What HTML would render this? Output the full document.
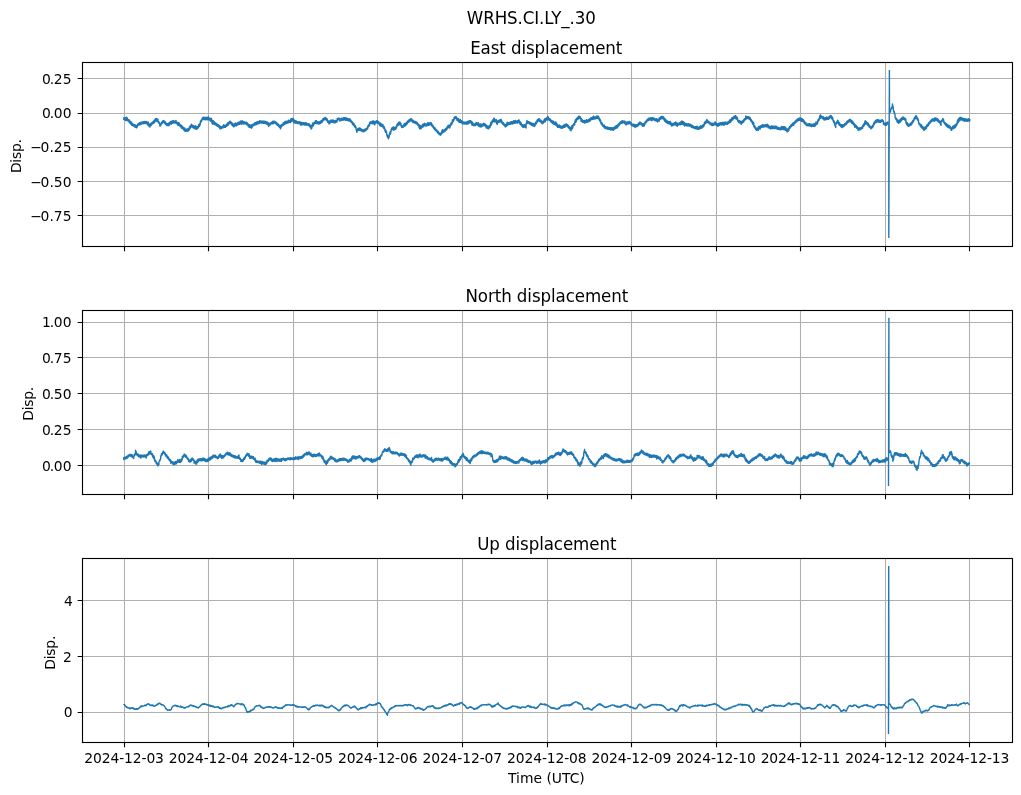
<!DOCTYPE html>
<html lang="en"><head><meta charset="utf-8"><title>WRHS.CI.LY_.30</title>
<style>html,body{margin:0;padding:0;background:#fff}body{width:1021px;height:795px;overflow:hidden}svg{display:block}text{font-family:"DejaVu Sans","Liberation Sans",sans-serif;fill:#000}.t10{font-size:13.889px}.t12{font-size:16.667px}.g{stroke:#b0b0b0;stroke-width:1.111;fill:none}.s{stroke:#000;stroke-width:1.111;fill:none;stroke-linecap:square}.k{stroke:#000;stroke-width:1.111;fill:none}.d{stroke:#1f77b4;stroke-width:1.389;fill:none;stroke-linejoin:round;stroke-linecap:butt}.d3{stroke-width:1.389px}.sp{stroke-width:1.389;stroke-linejoin:miter}</style></head><body>
<svg width="1021" height="795" viewBox="0 0 1021 795">
<rect width="1021" height="795" fill="#fff"/>
<text class="t12" transform="translate(531.3 23.9) scale(1 1.07)" text-anchor="middle" style="letter-spacing:-0.1px">WRHS.CI.LY_.30</text>
<g>
<path class="g" d="M124.5 62.5V246.5M208.5 62.5V246.5M293.5 62.5V246.5M377.5 62.5V246.5M462.5 62.5V246.5M547.5 62.5V246.5M631.5 62.5V246.5M716.5 62.5V246.5M800.5 62.5V246.5M885.5 62.5V246.5M969.5 62.5V246.5M82.5 78.5H1012.5M82.5 113.5H1012.5M82.5 147.5H1012.5M82.5 181.5H1012.5M82.5 215.5H1012.5"/>
<clipPath id="c0"><rect x="82.5" y="62.5" width="930.0" height="184.0"/></clipPath>
<g clip-path="url(#c0)">
<polyline class="d" points="123.8,117.3 123.8,119.5 124.7,119.6 124.7,117.7 125.6,117.9 125.6,120.5 126.5,120.2 126.5,117.2 127.4,118.3 127.4,120.7 128.3,121.1 128.3,119.6 129.2,119.9 129.2,122.5 130.1,123.2 130.1,121.3 131,121.6 131,124.1 131.9,125.3 131.9,123 132.8,124 132.8,125.7 133.7,126.1 133.7,124.5 134.6,124.6 134.6,126.7 135.5,127.3 135.5,125.1 136.4,125.9 136.4,127.9 137.3,127.1 137.3,125.1 138.2,123.6 138.2,125.3 139.1,124.8 139.1,123.2 140,122.7 140,124.8 140.9,124.3 140.9,122.3 141.8,122.1 141.8,124 142.7,123.4 142.7,121.9 143.6,121.8 143.6,123.8 144.5,123.4 144.5,121.4 145.4,121.6 145.4,123.5 146.3,123.4 146.3,121.5 147.2,122.4 147.2,124.3 148.1,125.3 148.1,121.9 149,124.1 149,126.3 149.9,127 149.9,124.9 150.8,123.5 150.8,125.8 151.7,124.6 151.7,122.7 152.6,122 152.6,123.8 153.5,123.3 153.5,121.2 154.4,120.1 154.4,122.7 155.3,121.2 155.3,119 156.2,118.4 156.2,120.7 157.1,121.4 157.1,118.8 158,119.6 158,121.6 158.9,123.3 158.9,121.6 159.8,124.3 159.8,126.1 160.7,125.8 160.7,124.1 161.6,122.2 161.6,124.1 162.5,122.8 162.5,121.2 163.4,120.4 163.4,122.1 164.3,123 164.3,121 165.2,121.8 165.2,124 166.1,124.7 166.1,123 167,123.7 167,125.7 167.9,125.4 167.9,123.5 168.8,123 168.8,125.7 169.7,124.5 169.7,122.7 170.6,121.4 170.6,123.7 171.5,124.2 171.5,121.3 172.4,121 172.4,123.3 173.3,122.8 173.3,120.5 174.2,121 174.2,123 175.1,122.9 175.1,121.2 176,120.5 176,123.2 176.9,123.8 176.9,122.1 177.8,122.9 177.8,125.2 178.7,125.2 178.7,122.4 179.6,124.2 179.6,126 180.5,126.7 180.5,124.8 181.4,125.3 181.4,128 182.3,128.4 182.3,126.2 183.2,127.5 183.2,129.3 184.1,130.3 184.1,128 185,128.2 185,131.4 185.9,131.1 185.9,129.6 186.8,129.2 186.8,131.4 187.7,131.1 187.7,128.8 188.6,128.3 188.6,130.7 189.5,129.3 189.5,126.9 190.4,125.8 190.4,128 191.3,126.7 191.3,124.1 192.2,125.1 192.2,126.8 193.1,127.8 193.1,125.5 194,125.9 194,128.2 194.9,128.8 194.9,126.5 195.8,125.8 195.8,128.7 196.7,129.3 196.7,126.9 197.6,126.7 197.6,128.6 198.5,127.2 198.5,124.9 199.4,124 199.4,126.5 200.3,123.9 200.3,121.8 201.2,120 201.2,122 202.1,120 202.1,118.5 203,117.5 203,119.4 203.9,119.6 203.9,117.2 204.8,117.5 204.8,119.3 205.7,119.8 205.7,117.5 206.6,117.4 206.6,119.3 207.5,119.8 207.5,117.5 208.4,116.8 208.4,119.4 209.3,120.1 209.3,118.1 210.2,118.5 210.2,120.5 211.1,121.6 211.1,118.1 212,120.6 212,123.2 212.9,124.2 212.9,120.7 213.8,121.3 213.8,123.6 214.7,124.5 214.7,122.2 215.6,123.2 215.6,124.8 216.5,125.7 216.5,123.5 217.4,124.4 217.4,125.9 218.3,126.8 218.3,124.8 219.2,125.3 219.2,127.2 220.1,128.8 220.1,126.1 221,127.2 221,128.7 221.9,128.2 221.9,126.6 222.8,126 222.8,127.9 223.7,127.4 223.7,124.8 224.6,125.5 224.6,127.4 225.5,127.2 225.5,125.5 226.4,124.6 226.4,126.3 227.3,125.7 227.3,123.4 228.2,122.5 228.2,125.1 229.1,123.7 229.1,122.1 230,121.1 230,122.9 230.9,123.7 230.9,121.9 231.8,122.8 231.8,124.9 232.7,125.9 232.7,123.5 233.6,124.3 233.6,126.9 234.5,126.2 234.5,124.1 235.4,122.9 235.4,125.9 236.3,125.9 236.3,123.7 237.2,122.9 237.2,125.2 238.1,124.7 238.1,122.5 239,122.3 239,124.4 239.9,124.2 239.9,121.8 240.8,120.9 240.8,123.5 241.7,124.3 241.7,121 242.6,120.9 242.6,122.7 243.5,124 243.5,121.7 244.4,121.9 244.4,123.9 245.3,123.9 245.3,122.2 246.2,122.3 246.2,124.3 247.1,124.8 247.1,122.6 248,123.8 248,125.8 248.9,127 248.9,124.8 249.8,124.6 249.8,127.5 250.7,127.6 250.7,125.6 251.6,124.9 251.6,128.2 252.5,126.5 252.5,124.5 253.4,124.2 253.4,125.7 254.3,125.1 254.3,123.3 255.2,122.7 255.2,124.8 256.1,124.7 256.1,122.4 257,121.9 257,124.2 257.9,123.9 257.9,121.5 258.8,121.7 258.8,123.5 259.7,123.3 259.7,120.6 260.6,121.3 260.6,122.8 261.5,123 261.5,121.1 262.4,121 262.4,123.1 263.3,123.2 263.3,121.2 264.2,121.2 264.2,123.3 265.1,123.3 265.1,121.3 266,121.7 266,123.9 266.9,124.2 266.9,121.9 267.8,122.3 267.8,124.1 268.7,126.5 268.7,123.3 269.6,123.4 269.6,125 270.5,124.6 270.5,122.8 271.4,122.4 271.4,123.9 272.3,123.8 272.3,121.7 273.2,121.2 273.2,123.8 274.1,122.8 274.1,121.2 275,121.4 275,123.2 275.9,123.8 275.9,122.1 276.8,122.7 276.8,124.9 277.7,125.5 277.7,123.8 278.6,124.3 278.6,126.5 279.5,127.2 279.5,125.5 280.4,125.5 280.4,128.9 281.3,126.8 281.3,124.9 282.2,124.5 282.2,126.1 283.1,125.3 283.1,123 284,122.6 284,124.8 284.9,124 284.9,121.5 285.8,121.5 285.8,123.6 286.7,123.5 286.7,121.3 287.6,121.1 287.6,123 288.5,122.7 288.5,120.1 289.4,120.8 289.4,122.4 290.3,122.6 290.3,120.2 291.2,118.5 291.2,121.8 292.1,120.9 292.1,118.9 293,118.2 293,119.9 293.9,122.7 293.9,119.6 294.8,120.7 294.8,123 295.7,123 295.7,120.7 296.6,121.3 296.6,123.1 297.5,123.5 297.5,121.7 298.4,121.9 298.4,123.6 299.3,123.4 299.3,121.8 300.2,121.9 300.2,124.6 301.1,125.3 301.1,122.6 302,122.5 302,124.5 302.9,124.7 302.9,122.6 303.8,122.8 303.8,124.7 304.7,125.1 304.7,123 305.6,122.6 305.6,125 306.5,125.1 306.5,123 307.4,123.5 307.4,125.1 308.3,125.3 308.3,123.6 309.2,124 309.2,126.1 310.1,127.1 310.1,125 311,125.5 311,129.1 311.9,128.1 311.9,125.4 312.8,123 312.8,126.3 313.7,124.8 313.7,122.9 314.6,122.2 314.6,123.7 315.5,123.4 315.5,120.8 316.4,120.7 316.4,123.6 317.3,123.4 317.3,121.7 318.2,122.1 318.2,124.1 319.1,124 319.1,121.8 320,122 320,123.6 320.9,123.2 320.9,120.8 321.8,120.3 321.8,122.4 322.7,121.6 322.7,119.3 323.6,118.4 323.6,120.2 324.5,119.7 324.5,117.9 325.4,117.4 325.4,119.6 326.3,120 326.3,118.2 327.2,119.1 327.2,121.3 328.1,122.6 328.1,121 329,120.9 329,124 329.9,123.5 329.9,121.2 330.8,120.1 330.8,122.4 331.7,122 331.7,120.4 332.6,119.9 332.6,122.3 333.5,122.5 333.5,120.3 334.4,120.8 334.4,122.9 335.3,122.8 335.3,120.5 336.2,120.6 336.2,122.2 337.1,121.8 337.1,118.8 338,118.3 338,119.9 338.9,119.5 338.9,118 339.8,118.5 339.8,121 340.7,120.6 340.7,119 341.6,118.3 341.6,120.2 342.5,120.1 342.5,118.3 343.4,117.8 343.4,120.1 344.3,119.7 344.3,117.6 345.2,117.8 345.2,120 346.1,120.3 346.1,117.9 347,118.1 347,120.3 347.9,120.6 347.9,118.6 348.8,118.9 348.8,121.1 349.7,121.1 349.7,118.8 350.6,120 350.6,121.7 351.5,122.6 351.5,121 352.4,122.1 352.4,124.2 353.3,125 353.3,123 354.2,124.1 354.2,126.1 355.1,127.3 355.1,125.4 356,127.1 356,128.8 356.9,132.2 356.9,130.2 357.8,128.6 357.8,130.7 358.7,130.2 358.7,128.2 359.6,127.9 359.6,130.3 360.5,130.6 360.5,128.3 361.4,129.2 361.4,131 362.3,131.5 362.3,129.7 363.2,129.9 363.2,131.7 364.1,131.7 364.1,129.8 365,129.2 365,130.9 365.9,130.7 365.9,128.7 366.8,127.9 366.8,129.6 367.7,128.7 367.7,126.6 368.6,124.9 368.6,126.9 369.5,125.2 369.5,122.8 370.4,121.9 370.4,123.6 371.3,123.1 371.3,121.6 372.2,121.4 372.2,123.8 373.1,123.9 373.1,120.7 374,121.6 374,123.6 374.9,124.7 374.9,121.4 375.8,121.5 375.8,123.1 376.7,122.6 376.7,120.7 377.6,120.9 377.6,123.1 378.5,123.6 378.5,121.8 379.4,122.9 379.4,124.8 380.3,126 380.3,122.9 381.2,124 381.2,126 382.1,126.6 382.1,124.2 383,124.9 383,127.2 383.9,128.5 383.9,126.3 384.8,128.4 384.8,129.9 385.7,132.4 385.7,130 386.6,132.2 386.6,134.2 387.5,137.2 387.5,135 388.4,136.8 388.4,138.9 389.3,136.2 389.3,134.5 390.2,131.8 390.2,134.2 391.1,131.2 391.1,129.6 392,127.8 392,129.9 392.9,129 392.9,127.2 393.8,127 393.8,130.2 394.7,129.3 394.7,127.7 395.6,127.2 395.6,129.3 396.5,127.7 396.5,125.9 397.4,123.7 397.4,126 398.3,125 398.3,122.8 399.2,122.1 399.2,124.7 400.1,124.5 400.1,122.3 401,123.9 401,125.6 401.9,127.6 401.9,125.8 402.8,125.9 402.8,127.4 403.7,126.7 403.7,124.9 404.6,123.5 404.6,126.1 405.5,125.7 405.5,123.5 406.4,122.4 406.4,124.8 407.3,123.5 407.3,121.4 408.2,120.7 408.2,122.5 409.1,121.9 409.1,119.7 410,119.3 410,121.3 410.9,120.6 410.9,118.5 411.8,119.2 411.8,121.2 412.7,122.4 412.7,120.1 413.6,121 413.6,122.6 414.5,122.9 414.5,121.2 415.4,121.7 415.4,123.4 416.3,123.8 416.3,121.9 417.2,122.3 417.2,124.2 418.1,125.6 418.1,123.6 419,124.8 419,127.6 419.9,128.9 419.9,125.3 420.8,126.4 420.8,128.7 421.7,127.8 421.7,126.2 422.6,124.3 422.6,127.1 423.5,126.6 423.5,124.4 424.4,123.3 424.4,125.7 425.3,125.7 425.3,123.8 426.2,124.1 426.2,126 427.1,125.7 427.1,123.8 428,122.5 428,125.4 428.9,125.4 428.9,123.4 429.8,122.8 429.8,124.6 430.7,124.7 430.7,122.4 431.6,123.3 431.6,125.6 432.5,126.7 432.5,125 433.4,126.1 433.4,127.7 434.3,129.2 434.3,127.4 435.2,128.1 435.2,130.2 436.1,131 436.1,129.4 437,130.2 437,131.9 437.9,133.2 437.9,131.1 438.8,132.4 438.8,133.9 439.7,134.8 439.7,133.2 440.6,133.4 440.6,135.2 441.5,134 441.5,132.5 442.4,129.7 442.4,133 443.3,132.4 443.3,130.1 444.2,129.9 444.2,131.8 445.1,131.2 445.1,129 446,128.4 446,130.3 446.9,129.6 446.9,127.3 447.8,125.8 447.8,128 448.7,127.4 448.7,125.2 449.6,125.1 449.6,128.1 450.5,125.8 450.5,124.3 451.4,122.7 451.4,124.8 452.3,123.2 452.3,120.2 453.2,119.6 453.2,121.7 454.1,119.8 454.1,117.6 455,116.9 455,118.6 455.9,118.4 455.9,116.5 456.8,117.8 456.8,119.9 457.7,120.8 457.7,118.8 458.6,118.6 458.6,121.7 459.5,122.3 459.5,120.2 460.4,119.5 460.4,122.5 461.3,122.5 461.3,120.7 462.2,121.3 462.2,123.5 463.1,123.8 463.1,121.9 464,122.2 464,123.9 464.9,124 464.9,122.3 465.8,122.3 465.8,123.9 466.7,124.2 466.7,122 467.6,121.4 467.6,123.8 468.5,123.8 468.5,121.4 469.4,120.7 469.4,123 470.3,122.3 470.3,120.5 471.2,121.3 471.2,123.3 472.1,125.1 472.1,121.9 473,123.2 473,125 473.9,125.8 473.9,124.2 474.8,123.9 474.8,125.6 475.7,125.3 475.7,123.2 476.6,122.6 476.6,124.8 477.5,125.1 477.5,123.3 478.4,122.7 478.4,125.7 479.3,126.4 479.3,124.4 480.2,123.8 480.2,126.7 481.1,127.1 481.1,124.7 482,124.2 482,126.4 482.9,125.8 482.9,124.1 483.8,123.3 483.8,125.6 484.7,125.7 484.7,123.8 485.6,124.3 485.6,126.4 486.5,128.1 486.5,125.4 487.4,126.1 487.4,128.2 488.3,128.9 488.3,126.8 489.2,125.8 489.2,128.1 490.1,127.2 490.1,125.4 491,122.2 491,125.4 491.9,123.3 491.9,121.6 492.8,119.8 492.8,122.2 493.7,121 493.7,118.1 494.6,119 494.6,121.9 495.5,121.8 495.5,120 496.4,119.7 496.4,123.1 497.3,124.4 497.3,121.6 498.2,120.5 498.2,122.5 499.1,122.1 499.1,120.3 500,119.8 500,122 500.9,121.6 500.9,119.3 501.8,120.9 501.8,122.9 502.7,124 502.7,122.1 503.6,123.1 503.6,124.8 504.5,125.9 504.5,124.2 505.4,124.8 505.4,127 506.3,126.5 506.3,124.3 507.2,122.2 507.2,125.5 508.1,125 508.1,123 509,122.5 509,124.4 509.9,124.4 509.9,122.5 510.8,121.8 510.8,124 511.7,123.9 511.7,121.6 512.6,121.7 512.6,124.1 513.5,123.3 513.5,120.8 514.4,120.9 514.4,123.3 515.3,123 515.3,120.4 516.2,121 516.2,122.5 517.1,123.3 517.1,120.9 518,120.6 518,122.3 518.9,122.7 518.9,119.8 519.8,121.9 519.8,123.5 520.7,124.8 520.7,121.9 521.6,124.3 521.6,125.8 522.5,126.9 522.5,124.6 523.4,125.3 523.4,127.5 524.3,126.9 524.3,124.7 525.2,124.9 525.2,127.3 526.1,127.9 526.1,124.2 527,120.4 527,123.5 527.9,123.2 527.9,121.7 528.8,121.7 528.8,123.4 529.7,124 529.7,122.2 530.6,122.8 530.6,124.5 531.5,125.2 531.5,122.9 532.4,123.6 532.4,125.7 533.3,125.9 533.3,123.5 534.2,124 534.2,126.6 535.1,125.7 535.1,123.4 536,122 536,124 536.9,122.6 536.9,120.5 537.8,119.6 537.8,121.5 538.7,120.7 538.7,118.6 539.6,119.2 539.6,121.4 540.5,121.9 540.5,120.1 541.4,120.8 541.4,122.7 542.3,123.7 542.3,121.8 543.2,121.1 543.2,123.2 544.1,121.7 544.1,119.8 545,118.8 545,122.1 545.9,119.9 545.9,118.4 546.8,117.8 546.8,120 547.7,119.4 547.7,116.5 548.6,117.7 548.6,119.8 549.5,120.4 549.5,118.7 550.4,119.4 550.4,121.1 551.3,122.2 551.3,120.2 552.2,121.1 552.2,123 553.1,123.8 553.1,121 554,122.3 554,124.4 554.9,124.5 554.9,122.1 555.8,121.9 555.8,125.3 556.7,126.1 556.7,123.2 557.6,125.2 557.6,127.2 558.5,127.4 558.5,125.4 559.4,125 559.4,127.4 560.3,127.8 560.3,125.8 561.2,126.1 561.2,128.3 562.1,128.3 562.1,126.4 563,125.8 563,127.8 563.9,127.3 563.9,125 564.8,124.8 564.8,127.4 565.7,125.7 565.7,124.2 566.6,123.9 566.6,126 567.5,126.8 567.5,124.8 568.4,125.8 568.4,127.5 569.3,128.7 569.3,126.7 570.2,127.8 570.2,130.3 571.1,130.7 571.1,127.8 572,125.6 572,129.1 572.9,127.1 572.9,125.3 573.8,123.7 573.8,125.6 574.7,124.8 574.7,122.1 575.6,119.4 575.6,122.3 576.5,121 576.5,118.6 577.4,117.6 577.4,119.5 578.3,118.9 578.3,116.8 579.2,116.2 579.2,118.1 580.1,118.8 580.1,116.5 581,118.5 581,121.2 581.9,121.6 581.9,119.3 582.8,120.5 582.8,122.4 583.7,122.5 583.7,120.7 584.6,120.5 584.6,123.1 585.5,122.4 585.5,120.8 586.4,119.8 586.4,122.3 587.3,122.2 587.3,120.6 588.2,119.8 588.2,121.7 589.1,121.6 589.1,119.3 590,118.7 590,121.1 590.9,119.5 590.9,117.8 591.8,117.6 591.8,119.5 592.7,119.4 592.7,117.2 593.6,116.1 593.6,119.1 594.5,119.1 594.5,117.1 595.4,116.9 595.4,118.7 596.3,118.5 596.3,116.6 597.2,115.9 597.2,118.3 598.1,118.5 598.1,116.2 599,117.5 599,119.2 599.9,121.3 599.9,119 600.8,121.1 600.8,123.1 601.7,124.7 601.7,122.7 602.6,124.1 602.6,125.9 603.5,126.8 603.5,125.1 604.4,125.3 604.4,127.7 605.3,128.5 605.3,126.5 606.2,127.1 606.2,128.7 607.1,128.7 607.1,126.9 608,127.3 608,129.4 608.9,129.2 608.9,127.4 609.8,127.9 609.8,129.4 610.7,129.9 610.7,127.6 611.6,127.7 611.6,130.1 612.5,129.9 612.5,127.9 613.4,127.7 613.4,130.3 614.3,129 614.3,127.3 615.2,126.5 615.2,128.8 616.1,127.9 616.1,125.9 617,125.2 617,128.1 617.9,126.6 617.9,124.7 618.8,123.8 618.8,125.8 619.7,124.5 619.7,122.7 620.6,121.7 620.6,123.6 621.5,123.2 621.5,121.3 622.4,120.7 622.4,123.1 623.3,122.9 623.3,121.1 624.2,121 624.2,122.9 625.1,123.9 625.1,121.5 626,122.1 626,124.9 626.9,124.1 626.9,122.4 627.8,122 627.8,124.1 628.7,123.9 628.7,121.7 629.6,121.5 629.6,123.1 630.5,124 630.5,122.3 631.4,123.1 631.4,125.4 632.3,125.8 632.3,124.1 633.2,124.3 633.2,126 634.1,126.4 634.1,124.3 635,124.6 635,127.6 635.9,126.4 635.9,124.7 636.8,124.9 636.8,126.7 637.7,126.3 637.7,124.4 638.6,123.2 638.6,125.2 639.5,124.5 639.5,122.2 640.4,122.3 640.4,123.8 641.3,124.8 641.3,122.9 642.2,123.8 642.2,125.8 643.1,126.3 643.1,124.4 644,123.2 644,126.1 644.9,124.5 644.9,122.7 645.8,121.2 645.8,122.9 646.7,122 646.7,120.1 647.6,119.1 647.6,120.8 648.5,120.5 648.5,118.3 649.4,118.5 649.4,120.1 650.3,119.9 650.3,117.7 651.2,118.1 651.2,120.5 652.1,120.5 652.1,117.7 653,117.8 653,119.9 653.9,119.8 653.9,118.2 654.8,118.8 654.8,120.5 655.7,120.8 655.7,118.9 656.6,118.7 656.6,120.8 657.5,122 657.5,119.4 658.4,119.2 658.4,121 659.3,121.1 659.3,118.1 660.2,117.5 660.2,119.5 661.1,118.8 661.1,116.5 662,116.4 662,118.5 662.9,118.7 662.9,116.6 663.8,117.3 663.8,119.2 664.7,121.2 664.7,118.5 665.6,119.6 665.6,121.9 666.5,122.6 666.5,120.3 667.4,121.3 667.4,123.3 668.3,123.7 668.3,121.5 669.2,121.9 669.2,123.6 670.1,124.3 670.1,121.4 671,122.8 671,124.9 671.9,126.2 671.9,123.5 672.8,123.6 672.8,125.4 673.7,125 673.7,123.4 674.6,122.7 674.6,124.6 675.5,125 675.5,122 676.4,122.8 676.4,125 677.3,126.3 677.3,123.3 678.2,123.4 678.2,125 679.1,124.7 679.1,123.1 680,122.6 680,124.8 680.9,124.2 680.9,121.8 681.8,121 681.8,124.2 682.7,124.4 682.7,121.4 683.6,121.9 683.6,123.8 684.5,126.1 684.5,122.7 685.4,123.5 685.4,125.1 686.3,125.8 686.3,123.6 687.2,124.2 687.2,125.8 688.1,125.8 688.1,123.7 689,123.9 689,126 689.9,126 689.9,124.2 690.8,124.7 690.8,126.6 691.7,127.4 691.7,125.1 692.6,125.6 692.6,127.5 693.5,127.9 693.5,126.3 694.4,126.9 694.4,128.4 695.3,128.7 695.3,126.8 696.2,126.8 696.2,128.9 697.1,129.1 697.1,126.3 698,127.2 698,129.2 698.9,129.2 698.9,127.5 699.8,126.6 699.8,128.7 700.7,128.4 700.7,125.7 701.6,126.1 701.6,128.1 702.5,127.4 702.5,125.4 703.4,124.7 703.4,126.8 704.3,125.2 704.3,122.8 705.2,121.7 705.2,123.8 706.1,122.9 706.1,120.9 707,119.5 707,122.3 707.9,122.6 707.9,121 708.8,121.4 708.8,123.1 709.7,124.1 709.7,122.1 710.6,123.2 710.6,124.7 711.5,125.2 711.5,123.1 712.4,123.2 712.4,125.6 713.3,125.4 713.3,123.5 714.2,123 714.2,124.7 715.1,124.6 715.1,121.8 716,123.2 716,125.2 716.9,125.6 716.9,123.6 717.8,124 717.8,126.3 718.7,125.7 718.7,123.4 719.6,123 719.6,125.2 720.5,124.4 720.5,122.8 721.4,122.7 721.4,125 722.3,124.9 722.3,122.6 723.2,122.2 723.2,124.6 724.1,125.4 724.1,122.5 725,122 725,124.4 725.9,124 725.9,122.4 726.8,122.1 726.8,124.2 727.7,124.2 727.7,122.2 728.6,121.4 728.6,123.4 729.5,122.3 729.5,120.3 730.4,119.7 730.4,122.5 731.3,120.9 731.3,119.1 732.2,117.5 732.2,120.2 733.1,119.4 733.1,117.7 734,116.3 734,118.4 734.9,117.8 734.9,115.9 735.8,115.6 735.8,118.8 736.7,119.2 736.7,117 737.6,118.4 737.6,120.7 738.5,122.2 738.5,120.5 739.4,120.6 739.4,122.9 740.3,123 740.3,121.3 741.2,121.5 741.2,124.4 742.1,122.9 742.1,121.4 743,120.4 743,122.6 743.9,121.7 743.9,119.4 744.8,118.5 744.8,120.1 745.7,119.5 745.7,116 746.6,116.7 746.6,118.8 747.5,118.2 747.5,116.6 748.4,116.8 748.4,118.4 749.3,119.2 749.3,117.1 750.2,117.7 750.2,119.7 751.1,121.3 751.1,119.3 752,120.8 752,122.4 752.9,124.6 752.9,121.8 753.8,123 753.8,126.3 754.7,128 754.7,125.8 755.6,127.7 755.6,129.2 756.5,130.3 756.5,128.1 757.4,128.3 757.4,130.1 758.3,130.3 758.3,127 759.2,126.3 759.2,128.7 760.1,129.2 760.1,126.4 761,125.6 761,127.7 761.9,127.4 761.9,125.3 762.8,124.6 762.8,126.8 763.7,127 763.7,125 764.6,125.1 764.6,126.7 765.5,126.6 765.5,124.8 766.4,124.7 766.4,126.8 767.3,126.7 767.3,124.3 768.2,125.2 768.2,127.8 769.1,127.7 769.1,126 770,126.5 770,128.8 770.9,128.8 770.9,126.5 771.8,125.8 771.8,128.6 772.7,128.6 772.7,126.5 773.6,126.2 773.6,128.2 774.5,128.7 774.5,126.3 775.4,126.2 775.4,128.3 776.3,128.7 776.3,126.3 777.2,127.3 777.2,129 778.1,129.4 778.1,127.4 779,127.8 779,129.6 779.9,129.6 779.9,128.1 780.8,127.4 780.8,129.8 781.7,129.4 781.7,126.5 782.6,126.9 782.6,129 783.5,129.6 783.5,126.6 784.4,126.6 784.4,129.5 785.3,130.3 785.3,127.1 786.2,128.5 786.2,130.2 787.1,131.9 787.1,129.6 788,128.7 788,131.3 788.9,130.2 788.9,128 789.8,126.4 789.8,128.2 790.7,127.3 790.7,125.3 791.6,124.6 791.6,126.2 792.5,125.2 792.5,123.3 793.4,122.8 793.4,125.3 794.3,123.8 794.3,122.3 795.2,121.1 795.2,123 796.1,122.1 796.1,120.5 797,119.4 797,121.6 797.9,120.8 797.9,118.6 798.8,118.3 798.8,120.4 799.7,120.2 799.7,118 800.6,117.9 800.6,120.3 801.5,121.4 801.5,118.4 802.4,119.1 802.4,121 803.3,121.9 803.3,119.7 804.2,121.2 804.2,123 805.1,124.1 805.1,122.2 806,122.8 806,124.9 806.9,125.8 806.9,124.2 807.8,124 807.8,125.6 808.7,125.8 808.7,123.8 809.6,123.8 809.6,125.7 810.5,126.2 810.5,124.1 811.4,124.3 811.4,126.5 812.3,126.2 812.3,124.5 813.2,124.3 813.2,126.4 814.1,126.2 814.1,123.8 815,123.7 815,126.2 815.9,124.9 815.9,122 816.8,122.4 816.8,124.3 817.7,122.8 817.7,120.7 818.6,119 818.6,121 819.5,119 819.5,116.8 820.4,114.9 820.4,118.2 821.3,117.7 821.3,115.9 822.2,116.6 822.2,118.1 823.1,119 823.1,116.6 824,117.6 824,120.1 824.9,119.9 824.9,117.6 825.8,117.6 825.8,119.7 826.7,119.3 826.7,117 827.6,117.5 827.6,119.4 828.5,119.4 828.5,117.5 829.4,116.3 829.4,118.6 830.3,117.4 830.3,115.5 831.2,115.6 831.2,117.6 832.1,119.2 832.1,116.8 833,118.8 833,120.6 833.9,122.8 833.9,120.8 834.8,122.9 834.8,124.9 835.7,127.6 835.7,124.9 836.6,121.9 836.6,123.5 837.5,123 837.5,120.2 838.4,121.2 838.4,123.5 839.3,125.2 839.3,122.5 840.2,124.2 840.2,125.8 841.1,126.9 841.1,124.6 842,124.7 842,127.6 842.9,126.9 842.9,125 843.8,124.7 843.8,126.6 844.7,125.3 844.7,123.8 845.6,123.2 845.6,124.8 846.5,124.2 846.5,122.2 847.4,121 847.4,123.1 848.3,122.2 848.3,120.5 849.2,119.8 849.2,121.8 850.1,121.5 850.1,119.3 851,120.3 851,121.9 851.9,123.3 851.9,120.7 852.8,121.5 852.8,123.8 853.7,124.9 853.7,123 854.6,123.9 854.6,127.2 855.5,126.9 855.5,124.9 856.4,125.8 856.4,128 857.3,128.8 857.3,126.8 858.2,128 858.2,130.4 859.1,129.9 859.1,128.3 860,127.7 860,129.8 860.9,129.2 860.9,127.7 861.8,127 861.8,128.7 862.7,128.1 862.7,125.8 863.6,124.2 863.6,126.3 864.5,125 864.5,122.7 865.4,120.6 865.4,124 866.3,123.9 866.3,121.8 867.2,122.5 867.2,124.7 868.1,125.6 868.1,123.2 869,124.8 869,126.9 869.9,127.5 869.9,126 870.8,126.8 870.8,128.8 871.7,128.4 871.7,126.8 872.6,125.3 872.6,127.3 873.5,125.8 873.5,123.7 874.4,121.9 874.4,124.3 875.3,122.5 875.3,120.8 876.2,120.2 876.2,122.6 877.1,121.8 877.1,119.8 878,119.7 878,122.1 878.9,122 878.9,119.9 879.8,120.8 879.8,122.4 880.7,122.2 880.7,120.4 881.6,119.9 881.6,121.5 882.5,121.4 882.5,119.8 883.4,121.2 883.4,123.9 884.3,124.8 884.3,123.3 885.2,123.3 885.2,125.2 886.1,125.3 886.1,123 887,122.6 887,124.7 887.9,123.2 887.9,121.2"/>
<polyline class="d sp" points="888.5,122.4 888.8,123.4 888.8,238.1 889.4,70 889.5,109.5 889.8,111.5"/>
<polyline class="d" points="889.7,110.9 889.7,112.5 890.6,112 890.6,110 891.5,107.2 891.5,109 892.4,106.7 892.4,104 893.3,107.9 893.3,109.5 894.2,113.1 894.2,111.3 895.1,115.1 895.1,117.5 896,119.6 896,118 896.9,119.4 896.9,121.5 897.8,122.5 897.8,120.2 898.7,120.5 898.7,123.4 899.6,122.1 899.6,120.2 900.5,119.1 900.5,122 901.4,120.5 901.4,118.2 902.3,117.5 902.3,119.6 903.2,119.1 903.2,116.9 904.1,117.7 904.1,119.4 905,120.1 905,118.3 905.9,119.2 905.9,122.5 906.8,124.7 906.8,122.2 907.7,123.5 907.7,125.7 908.6,126.3 908.6,124.7 909.5,124.1 909.5,125.9 910.4,125.2 910.4,123.6 911.3,122.6 911.3,124.9 912.2,123.2 912.2,121.7 913.1,120.2 913.1,122.3 914,120.3 914,118.7 914.9,117.1 914.9,119 915.8,118 915.8,115.6 916.7,116.3 916.7,118.1 917.6,120.1 917.6,118 918.5,120.5 918.5,122.7 919.4,124.8 919.4,123.2 920.3,124.6 920.3,126.3 921.2,127.2 921.2,124.5 922.1,126 922.1,128.2 923,129.1 923,126.8 923.9,128 923.9,130.5 924.8,129.5 924.8,127.2 925.7,126.8 925.7,129 926.6,128 926.6,125.3 927.5,124.6 927.5,126.3 928.4,125.4 928.4,123.3 929.3,122.2 929.3,124 930.2,122.9 930.2,121.1 931.1,120.1 931.1,122 932,121.3 932,119.1 932.9,119 932.9,120.8 933.8,121 933.8,118.7 934.7,118 934.7,121.2 935.6,119.9 935.6,117.9 936.5,118.4 936.5,120 937.4,121.1 937.4,118.8 938.3,119.5 938.3,121.7 939.2,122.3 939.2,120.8 940.1,121.2 940.1,123.4 941,125.4 941,122.3 941.9,120.1 941.9,121.7 942.8,120.5 942.8,118.4 943.7,120.1 943.7,122 944.6,123.9 944.6,122.1 945.5,123.1 945.5,124.8 946.4,126 946.4,123.8 947.3,124.6 947.3,126.8 948.2,127.6 948.2,125.2 949.1,125.4 949.1,127.4 950,128.3 950,126.1 950.9,128.3 950.9,129.9 951.8,130.3 951.8,128.2 952.7,126.2 952.7,128.4 953.6,128.8 953.6,126.1 954.5,125.1 954.5,127.8 955.4,127.5 955.4,125.4 956.3,123.8 956.3,126 957.2,124 957.2,121.7 958.1,119.3 958.1,122.8 959,120.5 959,118.1 959.9,117.7 959.9,120.8 960.8,119 960.8,117.2 961.7,118.2 961.7,119.9 962.6,120.4 962.6,118.2 963.5,118.4 963.5,120.7 964.4,121.2 964.4,118.8 965.3,119 965.3,121.1 966.2,121.1 966.2,119 967.1,119.1 967.1,121.4 968,121.1 968,119.3 968.9,118.7 968.9,121 969.8,120.6 969.8,118.9"/>
</g>
<path class="k" d="M124.5 246.5v4.86M208.5 246.5v4.86M293.5 246.5v4.86M377.5 246.5v4.86M462.5 246.5v4.86M547.5 246.5v4.86M631.5 246.5v4.86M716.5 246.5v4.86M800.5 246.5v4.86M885.5 246.5v4.86M969.5 246.5v4.86M82.5 78.5h-4.86M82.5 113.5h-4.86M82.5 147.5h-4.86M82.5 181.5h-4.86M82.5 215.5h-4.86"/>
<rect class="s" x="82.5" y="62.5" width="930.0" height="184.0"/>
<text class="t10" x="71.5" y="84.25" text-anchor="end" dx="0 -1 -0.3">0.25</text>
<text class="t10" x="71.5" y="118.25" text-anchor="end" dx="0 -1 -0.3">0.00</text>
<text class="t10" x="71.5" y="152.25" text-anchor="end" dx="0 -1.2">−0.25</text>
<text class="t10" x="71.5" y="187.15" text-anchor="end" dx="0 -1.2">−0.50</text>
<text class="t10" x="71.5" y="221.15" text-anchor="end" dx="0 -1.2">−0.75</text>
<text class="t12" transform="translate(546.20 53.90) scale(1 1.07)" text-anchor="middle" style="letter-spacing:-0.08px">East displacement</text>
<text class="t10" transform="translate(20.5 156.2) rotate(-90)" text-anchor="middle" style="letter-spacing:-0.25px">Disp.</text>
</g>
<g>
<path class="g" d="M124.5 310.5V494.5M208.5 310.5V494.5M293.5 310.5V494.5M377.5 310.5V494.5M462.5 310.5V494.5M547.5 310.5V494.5M631.5 310.5V494.5M716.5 310.5V494.5M800.5 310.5V494.5M885.5 310.5V494.5M969.5 310.5V494.5M82.5 322.5H1012.5M82.5 357.5H1012.5M82.5 393.5H1012.5M82.5 429.5H1012.5M82.5 465.5H1012.5"/>
<clipPath id="c1"><rect x="82.5" y="310.5" width="930.0" height="184.0"/></clipPath>
<g clip-path="url(#c1)">
<polyline class="d" points="123.8,457 123.8,459.6 124.7,458.9 124.7,457.1 125.6,457.1 125.6,458.9 126.5,458.4 126.5,456.8 127.4,455.9 127.4,458.1 128.3,456.8 128.3,455.2 129.2,454.8 129.2,456 130.1,455.9 130.1,454.3 131,454.8 131,456.6 131.9,456.9 131.9,454.5 132.8,456.2 132.8,457.5 133.7,458.4 133.7,456.4 134.6,453.9 134.6,455.9 135.5,453.5 135.5,450.3 136.4,452.5 136.4,454.2 137.3,455.5 137.3,453.8 138.2,454.1 138.2,456.2 139.1,456.9 139.1,455.1 140,455.2 140,456.9 140.9,458.1 140.9,455 141.8,455.4 141.8,456.9 142.7,456.9 142.7,455.2 143.6,455.2 143.6,457 144.5,456.8 144.5,455 145.4,455.4 145.4,456.7 146.3,458 146.3,454.9 147.2,454.4 147.2,455.8 148.1,455.1 148.1,453.8 149,451.6 149,454.3 149.9,453.3 149.9,452 150.8,451 150.8,454.1 151.7,454.7 151.7,453.5 152.6,453.8 152.6,456.2 153.5,458.3 153.5,455.6 154.4,457.2 154.4,459.9 155.3,461.9 155.3,460 156.2,461.6 156.2,463.6 157.1,464.5 157.1,462.8 158,463.7 158,466 158.9,464.4 158.9,462.6 159.8,459.6 159.8,460.9 160.7,458.4 160.7,456.6 161.6,453.6 161.6,455.8 162.5,453.9 162.5,452.6 163.4,451.1 163.4,453.2 164.3,453.7 164.3,452.3 165.2,453.1 165.2,454.9 166.1,456.4 166.1,454.5 167,455.2 167,457.4 167.9,458.5 167.9,456.6 168.8,458.1 168.8,459.5 169.7,460.8 169.7,459.1 170.6,460.1 170.6,463.2 171.5,462.8 171.5,461.1 172.4,461.9 172.4,463.1 173.3,464.7 173.3,462.2 174.2,462.1 174.2,464.2 175.1,464.1 175.1,461.9 176,461.5 176,464.1 176.9,462.9 176.9,461.7 177.8,459.8 177.8,462.4 178.7,461.9 178.7,460.3 179.6,459.4 179.6,462.3 180.5,462.6 180.5,460.7 181.4,459 181.4,461.5 182.3,459.2 182.3,456.3 183.2,455.8 183.2,457.5 184.1,456 184.1,454 185,454.5 185,456.2 185.9,457.3 185.9,455.2 186.8,456.6 186.8,458 187.7,459.5 187.7,457.9 188.6,459.4 188.6,461.2 189.5,462 189.5,460.4 190.4,459.8 190.4,461.9 191.3,461.2 191.3,458.7 192.2,457.9 192.2,459.8 193.1,460.1 193.1,458.8 194,460.2 194,463 194.9,463.1 194.9,461 195.8,462.4 195.8,464 196.7,464.1 196.7,461.6 197.6,459.3 197.6,462.2 198.5,461.3 198.5,459.4 199.4,458.8 199.4,460.5 200.3,460.5 200.3,458.6 201.2,458.9 201.2,460.9 202.1,460.3 202.1,458.6 203,458.1 203,460.7 203.9,460.2 203.9,458.3 204.8,458.7 204.8,460.9 205.7,461.6 205.7,459.5 206.6,459.4 206.6,461.4 207.5,461.5 207.5,459.6 208.4,458.2 208.4,461.1 209.3,460.3 209.3,458.6 210.2,457.2 210.2,459.8 211.1,459.2 211.1,457.3 212,456.5 212,458.4 212.9,457.6 212.9,455.4 213.8,455.2 213.8,457.1 214.7,457.1 214.7,455.3 215.6,455.4 215.6,457.5 216.5,457.7 216.5,456.5 217.4,457.2 217.4,458.7 218.3,458.4 218.3,456.8 219.2,455.1 219.2,456.9 220.1,457.1 220.1,453.9 221,454.9 221,456.9 221.9,458.6 221.9,455.6 222.8,455.8 222.8,457.8 223.7,457.7 223.7,456.2 224.6,454.9 224.6,456.4 225.5,455.2 225.5,453.9 226.4,452.9 226.4,454.4 227.3,454.7 227.3,452.2 228.2,452.6 228.2,454.7 229.1,455.2 229.1,453.1 230,452.7 230,455.2 230.9,456 230.9,454 231.8,454.7 231.8,456.6 232.7,456.8 232.7,455.2 233.6,455.6 233.6,457.3 234.5,457.8 234.5,455.8 235.4,455.9 235.4,458.1 236.3,458 236.3,456.5 237.2,456.6 237.2,458.1 238.1,458.2 238.1,456.1 239,455 239,458.3 239.9,459.3 239.9,457.8 240.8,459.4 240.8,461.4 241.7,461.4 241.7,459.7 242.6,460 242.6,461.6 243.5,460.5 243.5,459.1 244.4,457.4 244.4,459.3 245.3,457.7 245.3,456.3 246.2,454.8 246.2,456.2 247.1,454.9 247.1,453.3 248,453.8 248,455.1 248.9,456.6 248.9,453.8 249.8,456.2 249.8,458.2 250.7,458.4 250.7,456.2 251.6,456.1 251.6,457.9 252.5,458.3 252.5,456.5 253.4,456.6 253.4,458.8 254.3,459.7 254.3,458.1 255.2,458.3 255.2,460.9 256.1,462.4 256.1,460.5 257,460.8 257,462.3 257.9,462.5 257.9,461.2 258.8,461.4 258.8,462.7 259.7,463.2 259.7,461.1 260.6,461.2 260.6,463.3 261.5,464.3 261.5,461.7 262.4,461.5 262.4,463.6 263.3,464 263.3,462.1 264.2,462 264.2,464.2 265.1,464.5 265.1,462.5 266,462.2 266,464.3 266.9,463.1 266.9,460.5 267.8,460.3 267.8,461.7 268.7,460.6 268.7,459 269.6,458 269.6,460 270.5,459.6 270.5,457.9 271.4,458.6 271.4,460.8 272.3,461.5 272.3,459.6 273.2,459.1 273.2,461.4 274.1,460.8 274.1,459 275,458.7 275,461.5 275.9,460.6 275.9,458.3 276.8,458.4 276.8,461.5 277.7,460.7 277.7,459 278.6,458.9 278.6,460.9 279.5,461.3 279.5,459.2 280.4,459.3 280.4,460.9 281.3,461.5 281.3,458.6 282.2,458.6 282.2,460 283.1,459.8 283.1,458.2 284,458.5 284,459.9 284.9,460.6 284.9,458.6 285.8,459 285.8,460.5 286.7,459.9 286.7,458.5 287.6,458 287.6,459.6 288.5,459.4 288.5,458 289.4,458.1 289.4,459.5 290.3,459.7 290.3,457.6 291.2,457.9 291.2,459.4 292.1,459.4 292.1,458.2 293,458 293,459.5 293.9,459.6 293.9,457.7 294.8,457.8 294.8,459.4 295.7,459.1 295.7,456.8 296.6,457.5 296.6,458.8 297.5,459.1 297.5,457.2 298.4,456.8 298.4,459.5 299.3,458.3 299.3,456.9 300.2,456.7 300.2,458.5 301.1,458.5 301.1,456.6 302,456.3 302,458.1 302.9,457.4 302.9,455.2 303.8,454.5 303.8,456.7 304.7,455.2 304.7,453.9 305.6,453.3 305.6,454.6 306.5,454.8 306.5,452.2 307.4,453.2 307.4,454.9 308.3,454.4 308.3,452.2 309.2,451.9 309.2,453.4 310.1,455.1 310.1,453.3 311,453.1 311,455.8 311.9,456.3 311.9,454.8 312.8,454.8 312.8,456.9 313.7,456.6 313.7,454.4 314.6,454.2 314.6,456.2 315.5,456.5 315.5,454.6 316.4,454.6 316.4,456.3 317.3,455.7 317.3,454.1 318.2,453.7 318.2,455.6 319.1,456 319.1,453 320,454.3 320,455.9 320.9,456.2 320.9,454.9 321.8,455.9 321.8,458 322.7,458.9 322.7,456.2 323.6,458.9 323.6,460.5 324.5,462.5 324.5,460.1 325.4,461.5 325.4,463.1 326.3,464.8 326.3,462 327.2,460.6 327.2,463.5 328.1,461.8 328.1,459.7 329,458.6 329,460.2 329.9,459.6 329.9,457.6 330.8,456.2 330.8,458.7 331.7,458.9 331.7,456.8 332.6,457.5 332.6,458.9 333.5,459.5 333.5,457.9 334.4,458.5 334.4,460.4 335.3,461.5 335.3,459 336.2,460.1 336.2,461.8 337.1,461.9 337.1,460.4 338,459.5 338,461.5 338.9,460.9 338.9,459.1 339.8,458.6 339.8,460.8 340.7,460.4 340.7,458.7 341.6,458.6 341.6,460.5 342.5,460.1 342.5,458.3 343.4,458.2 343.4,460.3 344.3,460.1 344.3,458.3 345.2,458.8 345.2,460.4 346.1,460.4 346.1,459.1 347,459.7 347,461.3 347.9,462.2 347.9,460.2 348.8,460.1 348.8,461.9 349.7,461.6 349.7,459.6 350.6,458.9 350.6,460.8 351.5,460.8 351.5,457.9 352.4,456 352.4,459.1 353.3,458 353.3,456.2 354.2,456 354.2,458.1 355.1,459.1 355.1,456.5 356,456.7 356,458.8 356.9,458.4 356.9,456.6 357.8,456.5 357.8,457.9 358.7,457.8 358.7,456 359.6,455.7 359.6,457.2 360.5,458 360.5,456.5 361.4,457.4 361.4,458.8 362.3,460.2 362.3,458.3 363.2,459.6 363.2,461.1 364.1,461.6 364.1,459.1 365,458.6 365,461 365.9,460.1 365.9,458.3 366.8,458.1 366.8,459.5 367.7,459.6 367.7,458.3 368.6,458.6 368.6,460 369.5,460.5 369.5,459.3 370.4,459.3 370.4,461.1 371.3,461.8 371.3,458.5 372.2,459.8 372.2,462.5 373.1,462 373.1,459.9 374,458.9 374,461.6 374.9,461 374.9,459.7 375.8,459.1 375.8,461.2 376.7,459.9 376.7,458.4 377.6,457.8 377.6,459.8 378.5,459.1 378.5,457.8 379.4,457.1 379.4,459.6 380.3,458.7 380.3,456.5 381.2,454.7 381.2,456.2 382.1,454.4 382.1,453 383,451.1 383,452.3 383.9,451.9 383.9,449.9 384.8,448.8 384.8,450.7 385.7,451 385.7,449.3 386.6,449.6 386.6,451.4 387.5,451.2 387.5,449.2 388.4,448.2 388.4,450.9 389.3,450.5 389.3,447.5 390.2,450.5 390.2,451.9 391.1,452.8 391.1,451.4 392,451.6 392,453.5 392.9,453.9 392.9,451.7 393.8,452.2 393.8,453.6 394.7,453.8 394.7,452.5 395.6,452.1 395.6,453.7 396.5,453.5 396.5,452.1 397.4,452.6 397.4,453.9 398.3,455 398.3,453.6 399.2,454.2 399.2,456.1 400.1,455.5 400.1,453.8 401,452.9 401,455.1 401.9,455.2 401.9,453.4 402.8,453.4 402.8,455.1 403.7,455.3 403.7,454 404.6,453.9 404.6,456.4 405.5,456.9 405.5,454.5 406.4,455.6 406.4,458.1 407.3,459.1 407.3,457.8 408.2,459 408.2,460.5 409.1,462 409.1,460 410,461.1 410,462.8 410.9,465.3 410.9,462 411.8,461.1 411.8,462.9 412.7,460.7 412.7,458.2 413.6,458.1 413.6,459.4 414.5,458.3 414.5,456.6 415.4,455.9 415.4,457.3 416.3,457.2 416.3,455.1 417.2,454.8 417.2,456.9 418.1,457.8 418.1,455.3 419,455 419,456.9 419.9,456.9 419.9,454 420.8,455.3 420.8,456.8 421.7,457.1 421.7,455.1 422.6,455.1 422.6,456.9 423.5,456.2 423.5,454.8 424.4,454.9 424.4,456.1 425.3,458.2 425.3,455 426.2,455.9 426.2,457.4 427.1,458.8 427.1,456.6 428,457.5 428,459.1 428.9,459.5 428.9,458.2 429.8,458.5 429.8,459.9 430.7,460.1 430.7,458.7 431.6,457.4 431.6,460.4 432.5,462 432.5,459.8 433.4,460.5 433.4,462 434.3,461.1 434.3,459.2 435.2,458.5 435.2,460.6 436.1,460 436.1,458.1 437,458.4 437,460.3 437.9,459.7 437.9,458.4 438.8,458.3 438.8,460 439.7,460.2 439.7,458.9 440.6,458.8 440.6,460.7 441.5,460.9 441.5,458.8 442.4,458.8 442.4,461.1 443.3,460 443.3,458.6 444.2,458 444.2,459.4 445.1,459.2 445.1,457.1 446,457.4 446,458.9 446.9,460 446.9,457.4 447.8,457.3 447.8,459.6 448.7,460.6 448.7,458.6 449.6,460 449.6,461.5 450.5,463.6 450.5,460.7 451.4,461.7 451.4,463.6 452.3,464.8 452.3,462.6 453.2,463.7 453.2,465.3 454.1,465.5 454.1,463.7 455,464.3 455,466.9 455.9,466.2 455.9,464.1 456.8,463.5 456.8,464.9 457.7,463.5 457.7,462.2 458.6,459.6 458.6,462.4 459.5,460.9 459.5,459.4 460.4,456.7 460.4,459.8 461.3,457.5 461.3,456.1 462.2,454.7 462.2,456.5 463.1,456.3 463.1,453.1 464,455.9 464,457.2 464.9,458.3 464.9,456.6 465.8,457.1 465.8,459.2 466.7,460.6 466.7,457.7 467.6,459.1 467.6,460.4 468.5,462.1 468.5,460.5 469.4,460.3 469.4,462.3 470.3,463.6 470.3,460.8 471.2,458.4 471.2,461.1 472.1,459.4 472.1,457.4 473,456.2 473,458 473.9,457.1 473.9,455.4 474.8,455.1 474.8,456.8 475.7,456.3 475.7,454.8 476.6,454.1 476.6,455.7 477.5,455 477.5,453.1 478.4,452.5 478.4,454.1 479.3,453.4 479.3,452.1 480.2,451.3 480.2,453.6 481.1,453.1 481.1,450.9 482,450.8 482,453.8 482.9,452.9 482.9,451.4 483.8,451.7 483.8,453.3 484.7,453.6 484.7,452.3 485.6,452.1 485.6,453.5 486.5,453.9 486.5,452.5 487.4,452.2 487.4,453.9 488.3,454.1 488.3,452.5 489.2,453.2 489.2,454.6 490.1,454.6 490.1,453.2 491,453.5 491,456.5 491.9,456.5 491.9,454.3 492.8,458.9 492.8,460.5 493.7,462.3 493.7,460.6 494.6,460.8 494.6,462.4 495.5,462.4 495.5,461 496.4,459.7 496.4,462 497.3,461.8 497.3,459.9 498.2,459.1 498.2,460.7 499.1,459.6 499.1,457.2 500,455.9 500,458.9 500.9,459.3 500.9,456.9 501.8,456.5 501.8,458.4 502.7,458.5 502.7,457 503.6,457.3 503.6,458.8 504.5,458.9 504.5,456.9 505.4,456.8 505.4,458.8 506.3,458.7 506.3,456.7 507.2,457.6 507.2,459.8 508.1,460.1 508.1,458.3 509,458.3 509,460.2 509.9,461 509.9,458.8 510.8,459.8 510.8,461 511.7,461.9 511.7,459.8 512.6,460.3 512.6,462.2 513.5,463 513.5,461 514.4,461.4 514.4,463.1 515.3,463.4 515.3,461.6 516.2,461.8 516.2,463.5 517.1,463.1 517.1,461.5 518,461.4 518,462.7 518.9,463.1 518.9,460.4 519.8,459.6 519.8,461.1 520.7,460.2 520.7,458.9 521.6,457.8 521.6,459.7 522.5,460.4 522.5,457.2 523.4,458.1 523.4,460.1 524.3,460.9 524.3,459 525.2,459 525.2,460.9 526.1,461 526.1,459.4 527,459.2 527,461.7 527.9,462.1 527.9,460.4 528.8,460.5 528.8,462.6 529.7,462.2 529.7,460.9 530.6,461.6 530.6,463.1 531.5,464.6 531.5,462.4 532.4,461.6 532.4,464 533.3,463.6 533.3,461.6 534.2,461.2 534.2,463.2 535.1,462.5 535.1,461.1 536,461.2 536,462.7 536.9,463.5 536.9,461.3 537.8,461.5 537.8,462.9 538.7,463.1 538.7,460.9 539.6,460 539.6,462.5 540.5,464.3 540.5,461.6 541.4,461.4 541.4,463.2 542.3,463.1 542.3,461.1 543.2,460.8 543.2,462.5 544.1,462.5 544.1,460.6 545,460.6 545,463 545.9,461.8 545.9,459.8 546.8,459.6 546.8,461.7 547.7,460.7 547.7,457.7 548.6,457.8 548.6,459.6 549.5,458.7 549.5,456.9 550.4,456.1 550.4,458.1 551.3,457.3 551.3,455.8 552.2,455.5 552.2,458.1 553.1,457.6 553.1,455.9 554,455.8 554,457 554.9,456.1 554.9,454.5 555.8,453.2 555.8,455.2 556.7,454.8 556.7,452.9 557.6,452.7 557.6,454.4 558.5,454.6 558.5,452.1 559.4,453 559.4,455 560.3,455.6 560.3,452.9 561.2,452.7 561.2,454.7 562.1,453.1 562.1,451.8 563,449 563,451.9 563.9,451.2 563.9,449.8 564.8,450.3 564.8,452.1 565.7,452.6 565.7,450.8 566.6,451.7 566.6,453.7 567.5,454.9 567.5,452.6 568.4,452.6 568.4,454.4 569.3,454.4 569.3,452.8 570.2,452.2 570.2,453.5 571.1,454.3 571.1,451.8 572,452.6 572,454.5 572.9,455.3 572.9,453.6 573.8,455.2 573.8,457.1 574.7,458.4 574.7,456.9 575.6,458 575.6,459.8 576.5,461.1 576.5,459.2 577.4,460.7 577.4,462.4 578.3,465.2 578.3,462.2 579.2,463.5 579.2,464.7 580.1,466.3 580.1,463.6 581,461.6 581,464.3 581.9,462.7 581.9,460.3 582.8,457.1 582.8,459.6 583.7,455.9 583.7,453.4 584.6,449.5 584.6,451.7 585.5,453.3 585.5,451.7 586.4,453.3 586.4,455.2 587.3,456.8 587.3,454.8 588.2,456.7 588.2,458.4 589.1,459.8 589.1,458.5 590,459.6 590,461.3 590.9,462.8 590.9,460.6 591.8,462 591.8,463.4 592.7,464.5 592.7,463 593.6,463.7 593.6,465.2 594.5,466.4 594.5,464.3 595.4,464.2 595.4,466.6 596.3,465 596.3,463.7 597.2,461.8 597.2,463.9 598.1,462.3 598.1,460.8 599,459.1 599,461.1 599.9,460.1 599.9,458.9 600.8,457.2 600.8,459.3 601.7,458.7 601.7,455.8 602.6,456.4 602.6,457.8 603.5,458.5 603.5,455.3 604.4,454.2 604.4,456.4 605.3,455.9 605.3,453.6 606.2,454 606.2,455.8 607.1,456.9 607.1,454.2 608,454.9 608,456.3 608.9,457.8 608.9,455.2 609.8,456.5 609.8,457.8 610.7,458.7 610.7,457.1 611.6,457.4 611.6,459.1 612.5,459.5 612.5,458.2 613.4,458.4 613.4,460.4 614.3,460.6 614.3,458.7 615.2,459.2 615.2,460.7 616.1,461.2 616.1,459.2 617,459.2 617,460.9 617.9,460.4 617.9,459.2 618.8,458.5 618.8,460.4 619.7,460.5 619.7,458.6 620.6,459.3 620.6,461.3 621.5,462.1 621.5,459.2 622.4,460.4 622.4,462.5 623.3,462.8 623.3,460.8 624.2,461.2 624.2,462.9 625.1,462.6 625.1,460.9 626,461.1 626,462.6 626.9,462.3 626.9,460.1 627.8,460.7 627.8,462.4 628.7,462.4 628.7,460.5 629.6,460.7 629.6,462.2 630.5,462 630.5,460.5 631.4,460.1 631.4,461.4 632.3,461 632.3,459.5 633.2,458.1 633.2,459.8 634.1,456.9 634.1,455.2 635,454.1 635,456.1 635.9,455.2 635.9,453.6 636.8,453.4 636.8,455.2 637.7,455.6 637.7,453 638.6,453.3 638.6,455.4 639.5,454.6 639.5,452.4 640.4,451.7 640.4,453.6 641.3,451.9 641.3,450 642.2,450.7 642.2,452.6 643.1,453.4 643.1,451.2 644,452.6 644,454.3 644.9,454.6 644.9,453.3 645.8,453.5 645.8,455 646.7,455.2 646.7,453.1 647.6,454 647.6,455.8 648.5,456.1 648.5,454 649.4,454.5 649.4,457.4 650.3,456.9 650.3,454.9 651.2,455.4 651.2,457.5 652.1,457.2 652.1,455.3 653,455.2 653,457.1 653.9,457.1 653.9,455.2 654.8,455.1 654.8,457.1 655.7,457.3 655.7,455.6 656.6,455.8 656.6,459 657.5,457.9 657.5,456 658.4,456.7 658.4,458.4 659.3,458.9 659.3,457.1 660.2,457.1 660.2,460 661.1,460.6 661.1,459.3 662,460.5 662,462.4 662.9,462.9 662.9,461.2 663.8,460.5 663.8,461.7 664.7,461 664.7,459.4 665.6,457.6 665.6,459.3 666.5,458.1 666.5,456.5 667.4,455.6 667.4,457 668.3,456.5 668.3,454.8 669.2,455.7 669.2,458.3 670.1,458.8 670.1,456.7 671,458.3 671,460.4 671.9,461.7 671.9,460.4 672.8,461.1 672.8,462.6 673.7,462.8 673.7,461 674.6,460.1 674.6,461.6 675.5,460.8 675.5,458.6 676.4,457.4 676.4,459.5 677.3,458.4 677.3,457 678.2,456.1 678.2,458 679.1,456.8 679.1,455.3 680,454.6 680,456.8 680.9,456.4 680.9,454.5 681.8,454.5 681.8,455.9 682.7,455.8 682.7,454.4 683.6,453.9 683.6,455.9 684.5,456.2 684.5,454.6 685.4,455.6 685.4,456.8 686.3,457.3 686.3,456.1 687.2,456.5 687.2,458.7 688.1,458.2 688.1,457 689,456.9 689,458.6 689.9,458 689.9,456.4 690.8,454.7 690.8,457.5 691.7,458.7 691.7,456.5 692.6,457.6 692.6,459.6 693.5,461.3 693.5,458.5 694.4,457.8 694.4,460.6 695.3,460.4 695.3,458.2 696.2,458.2 696.2,459.6 697.1,458.8 697.1,455.5 698,455.5 698,457.4 698.9,457.8 698.9,455.7 699.8,455.9 699.8,458 700.7,458.6 700.7,457.3 701.6,457.2 701.6,459.4 702.5,459.6 702.5,456.7 703.4,457.1 703.4,460.2 704.3,460.7 704.3,458.9 705.2,460.2 705.2,461.6 706.1,462.9 706.1,460.1 707,462.1 707,464.3 707.9,464.9 707.9,463.6 708.8,464.2 708.8,466.4 709.7,466.4 709.7,464.5 710.6,464.2 710.6,466.3 711.5,466.1 711.5,464.3 712.4,463.3 712.4,465.5 713.3,464.1 713.3,462.4 714.2,461.1 714.2,462.6 715.1,461.6 715.1,459.1 716,459.2 716,460.5 716.9,459.8 716.9,458.1 717.8,456.9 717.8,458.6 718.7,457.8 718.7,456.3 719.6,455.2 719.6,456.9 720.5,456.1 720.5,454.4 721.4,453.9 721.4,455.9 722.3,456.3 722.3,454.4 723.2,455.1 723.2,457.1 724.1,456.9 724.1,454.1 725,454.3 725,456.2 725.9,455.8 725.9,454.6 726.8,454.2 726.8,456 727.7,456.4 727.7,455.1 728.6,456.2 728.6,457.6 729.5,457.1 729.5,455.6 730.4,452.9 730.4,455.6 731.3,454.1 731.3,452.3 732.2,451 732.2,452.5 733.1,453.8 733.1,450.6 734,453 734,455.1 734.9,456.1 734.9,454.7 735.8,455.4 735.8,457.1 736.7,457.4 736.7,455.6 737.6,455.6 737.6,457.7 738.5,456.8 738.5,455.3 739.4,454.7 739.4,456.2 740.3,456.1 740.3,454.7 741.2,453.4 741.2,456.2 742.1,456.3 742.1,454.2 743,455.2 743,456.4 743.9,457.1 743.9,454.4 744.8,456.3 744.8,458.2 745.7,461 745.7,458 746.6,459.6 746.6,461.4 747.5,462.6 747.5,460.5 748.4,462.1 748.4,463.3 749.3,463.2 749.3,461.4 750.2,460.8 750.2,462.6 751.1,461.4 751.1,459.8 752,458.9 752,461 752.9,460.2 752.9,458.4 753.8,457.8 753.8,459.8 754.7,459 754.7,457.3 755.6,456.9 755.6,458.3 756.5,458.4 756.5,456.4 757.4,455.8 757.4,457.1 758.3,456.4 758.3,454.4 759.2,453.9 759.2,455.8 760.1,455.3 760.1,453.6 761,454.4 761,456.1 761.9,456.4 761.9,454.8 762.8,455.7 762.8,457.8 763.7,458.4 763.7,457.2 764.6,456.5 764.6,459.6 765.5,460.5 765.5,458.9 766.4,459 766.4,460.4 767.3,460.6 767.3,458.8 768.2,458.1 768.2,459.7 769.1,458.7 769.1,456.6 770,457.6 770,459.3 770.9,458.9 770.9,457.4 771.8,456.9 771.8,459 772.7,457.9 772.7,456.4 773.6,455.2 773.6,457.2 774.5,456.3 774.5,454.8 775.4,454 775.4,455.5 776.3,456.6 776.3,454.8 777.2,455.5 777.2,457.6 778.1,457.8 778.1,455.4 779,456.1 779,458.1 779.9,457.5 779.9,455.6 780.8,454 780.8,456.3 781.7,457.2 781.7,455.2 782.6,456.4 782.6,458.2 783.5,459.1 783.5,456.1 784.4,458.9 784.4,460.5 785.3,461.4 785.3,460.1 786.2,460.4 786.2,462.9 787.1,463.2 787.1,461.6 788,461.7 788,463.5 788.9,463.3 788.9,462.1 789.8,462.1 789.8,463.4 790.7,463.6 790.7,461.5 791.6,461.6 791.6,464.1 792.5,464.4 792.5,463.2 793.4,462.3 793.4,464.1 794.3,462.2 794.3,460.6 795.2,459.6 795.2,461.2 796.1,460.1 796.1,458 797,457 797,458.9 797.9,458.2 797.9,456.9 798.8,458.1 798.8,459.9 799.7,461.2 799.7,459.1 800.6,458.4 800.6,460.8 801.5,460.7 801.5,457.9 802.4,457.3 802.4,458.7 803.3,458.3 803.3,456 804.2,455.8 804.2,458 805.1,458.1 805.1,456.1 806,456.8 806,458.4 806.9,458.8 806.9,457.3 807.8,456 807.8,458.2 808.7,456.8 808.7,455.1 809.6,454.5 809.6,456.2 810.5,455.6 810.5,454.4 811.4,453.8 811.4,455.7 812.3,455.8 812.3,454.6 813.2,454.3 813.2,456.4 814.1,456 814.1,454 815,454.1 815,455.9 815.9,454.9 815.9,452.3 816.8,452.2 816.8,454.9 817.7,454.2 817.7,452.2 818.6,452.1 818.6,454.2 819.5,454.9 819.5,453.4 820.4,453.1 820.4,455.3 821.3,455.1 821.3,453.8 822.2,453.6 822.2,455.8 823.1,456.5 823.1,454.3 824,453.9 824,456.8 824.9,455.9 824.9,453.6 825.8,454.8 825.8,456.3 826.7,458.3 826.7,455.5 827.6,457.6 827.6,459.2 828.5,461 828.5,459.7 829.4,461.6 829.4,464.2 830.3,465.1 830.3,463.1 831.2,463.9 831.2,465.5 832.1,466.2 832.1,464.1 833,463.3 833,466.7 833.9,463.6 833.9,462.2 834.8,458.4 834.8,460.7 835.7,457.9 835.7,456.6 836.6,454.4 836.6,456.6 837.5,455.3 837.5,453.4 838.4,453.2 838.4,454.9 839.3,455.3 839.3,453.7 840.2,454.7 840.2,456.4 841.1,456.6 841.1,455 842,454.8 842,456 842.9,456.6 842.9,455.4 843.8,456.6 843.8,458 844.7,459.5 844.7,458.1 845.6,459.6 845.6,461.6 846.5,462.8 846.5,460.8 847.4,460.5 847.4,463.4 848.3,464 848.3,462.1 849.2,463 849.2,464.2 850.1,465 850.1,463.2 851,462.9 851,464.4 851.9,463.6 851.9,461.5 852.8,460.3 852.8,462.4 853.7,462.4 853.7,460.2 854.6,458.7 854.6,461.3 855.5,460.6 855.5,458.4 856.4,456.8 856.4,458.1 857.3,457.1 857.3,454.9 858.2,453.1 858.2,454.8 859.1,453.6 859.1,451.4 860,451 860,452.3 860.9,453.2 860.9,451.7 861.8,453.1 861.8,455.2 862.7,456.7 862.7,455.1 863.6,456.6 863.6,458.4 864.5,459.3 864.5,457.3 865.4,457.3 865.4,459 866.3,458.5 866.3,456.7 867.2,458.4 867.2,460.1 868.1,462.3 868.1,460.1 869,462.2 869,463.5 869.9,465.5 869.9,463.8 870.8,462.6 870.8,464.5 871.7,463 871.7,461.6 872.6,460.2 872.6,462 873.5,461.6 873.5,459.5 874.4,459.7 874.4,461.1 875.3,460.9 875.3,459.6 876.2,459.2 876.2,461.2 877.1,461.5 877.1,458.4 878,459.9 878,461.1 878.9,462.9 878.9,460.3 879.8,460.8 879.8,462.3 880.7,462.2 880.7,460.8 881.6,460.5 881.6,461.9 882.5,462.1 882.5,460 883.4,459.9 883.4,461.7 884.3,461.7 884.3,459.5 885.2,459 885.2,462.2 886.1,460.5 886.1,457.9 887,457.8 887,459.7 887.9,460.3 887.9,458.5"/>
<polyline class="d sp" points="888.2,459.2 888.5,460.2 888.5,486.1 888.9,317.8 889,449.6 889.3,451.6"/>
<polyline class="d" points="889.2,450.8 889.2,452.6 890.1,452.4 890.1,450.6 891,452.9 891,455 891.9,457.6 891.9,455.2 892.8,458.5 892.8,461.2 893.7,458.5 893.7,456.2 894.6,452.8 894.6,455.9 895.5,454.3 895.5,452.7 896.4,452.6 896.4,454.7 897.3,455.2 897.3,453 898.2,453.6 898.2,455.4 899.1,455.8 899.1,453.8 900,454.1 900,456.6 900.9,455.9 900.9,453.9 901.8,454.4 901.8,456.1 902.7,456 902.7,454.6 903.6,454.6 903.6,456.3 904.5,456.4 904.5,454.7 905.4,453.4 905.4,456.2 906.3,456.1 906.3,454.7 907.2,455.3 907.2,457.2 908.1,458.4 908.1,456.7 909,458.8 909,460.4 909.9,462.7 909.9,461.1 910.8,461.1 910.8,463 911.7,463.6 911.7,461.4 912.6,461.2 912.6,462.5 913.5,462.3 913.5,460.9 914.4,463.4 914.4,465.5 915.3,467.3 915.3,465.1 916.2,466.6 916.2,469.4 917.1,470.3 917.1,468.3 918,465.3 918,468.3 918.9,462.9 918.9,461.3 919.8,456.7 919.8,458.3 920.7,455.4 920.7,453.7 921.6,450.3 921.6,453.5 922.5,453.6 922.5,452.2 923.4,453.4 923.4,455.3 924.3,456.7 924.3,455.1 925.2,456.6 925.2,458 926.1,458.9 926.1,456.9 927,456.9 927,459 927.9,460.6 927.9,458 928.8,459 928.8,460.4 929.7,462.4 929.7,460.4 930.6,462.7 930.6,464.1 931.5,465 931.5,462.7 932.4,464.6 932.4,466.3 933.3,466.3 933.3,464.8 934.2,464.7 934.2,466.6 935.1,466.1 935.1,464.8 936,463.9 936,466 936.9,464.9 936.9,463.5 937.8,461.9 937.8,463.8 938.7,462.9 938.7,460.7 939.6,460 939.6,461.4 940.5,460.8 940.5,458.4 941.4,457.2 941.4,458.5 942.3,458.1 942.3,454.9 943.2,454.7 943.2,457 944.1,458.8 944.1,456.6 945,458 945,459.9 945.9,461.4 945.9,459.4 946.8,458.9 946.8,460.5 947.7,459.6 947.7,457.8 948.6,455.8 948.6,457.2 949.5,455.2 949.5,452.4 950.4,452 950.4,454.4 951.3,454.7 951.3,451.5 952.2,454.8 952.2,456.9 953.1,458.7 953.1,457 954,456.7 954,459.7 954.9,459.6 954.9,457.7 955.8,457.1 955.8,459.3 956.7,460.5 956.7,458.4 957.6,459.1 957.6,460.6 958.5,461.8 958.5,459.8 959.4,460.8 959.4,463.8 960.3,463.2 960.3,460.6 961.2,459.5 961.2,461.1 962.1,461.1 962.1,459.6 963,460.4 963,462.3 963.9,462.9 963.9,461.5 964.8,461.3 964.8,463.7 965.7,463.8 965.7,462.3 966.6,462.8 966.6,465.8 967.5,465.8 967.5,464.1 968.4,463.2 968.4,464.7 969.3,463.9 969.3,462.2"/>
</g>
<path class="k" d="M124.5 494.5v4.86M208.5 494.5v4.86M293.5 494.5v4.86M377.5 494.5v4.86M462.5 494.5v4.86M547.5 494.5v4.86M631.5 494.5v4.86M716.5 494.5v4.86M800.5 494.5v4.86M885.5 494.5v4.86M969.5 494.5v4.86M82.5 322.5h-4.86M82.5 357.5h-4.86M82.5 393.5h-4.86M82.5 429.5h-4.86M82.5 465.5h-4.86"/>
<rect class="s" x="82.5" y="310.5" width="930.0" height="184.0"/>
<text class="t10" x="71.5" y="327.25" text-anchor="end" dx="0 -1 -0.3">1.00</text>
<text class="t10" x="71.5" y="363.15" text-anchor="end" dx="0 -1 -0.3">0.75</text>
<text class="t10" x="71.5" y="399.15" text-anchor="end" dx="0 -1 -0.3">0.50</text>
<text class="t10" x="71.5" y="435.15" text-anchor="end" dx="0 -1 -0.3">0.25</text>
<text class="t10" x="71.5" y="471.15" text-anchor="end" dx="0 -1 -0.3">0.00</text>
<text class="t12" transform="translate(546.80 301.90) scale(1 1.07)" text-anchor="middle" style="letter-spacing:-0.08px">North displacement</text>
<text class="t10" transform="translate(32.5 403.9) rotate(-90)" text-anchor="middle" style="letter-spacing:-0.25px">Disp.</text>
</g>
<g>
<path class="g" d="M124.5 558.5V742.5M208.5 558.5V742.5M293.5 558.5V742.5M377.5 558.5V742.5M462.5 558.5V742.5M547.5 558.5V742.5M631.5 558.5V742.5M716.5 558.5V742.5M800.5 558.5V742.5M885.5 558.5V742.5M969.5 558.5V742.5M82.5 600.5H1012.5M82.5 656.5H1012.5M82.5 712.5H1012.5"/>
<clipPath id="c2"><rect x="82.5" y="558.5" width="930.0" height="184.0"/></clipPath>
<g clip-path="url(#c2)">
<polyline class="d d3" points="123.8,703.9 123.8,704.2 124.7,705.4 124.7,704.8 125.6,706.1 125.6,706.3 126.5,707.2 126.5,706.6 127.4,707.5 127.4,707.6 128.3,708.1 128.3,707.7 129.2,708 129.2,708.1 130.1,708.9 130.1,708.1 131,707.9 131,708.4 131.9,708.2 131.9,708 132.8,707.7 132.8,708.2 133.7,709 133.7,708.2 134.6,708.8 134.6,709 135.5,709.3 135.5,709 136.4,708.8 136.4,709.4 137.3,709.4 137.3,708.8 138.2,708.6 138.2,708.8 139.1,708.3 139.1,707.7 140,707.1 140,707.3 140.9,706.9 140.9,706 141.8,706 141.8,706.5 142.7,706.1 142.7,705.9 143.6,705.9 143.6,706 144.5,705.7 144.5,705.3 145.4,705.2 145.4,705.8 146.3,705.6 146.3,704.9 147.2,704.2 147.2,704.5 148.1,703.9 148.1,703.8 149,704 149,704.6 149.9,705.1 149.9,704.8 150.8,705.2 150.8,705.6 151.7,705.5 151.7,705 152.6,705 152.6,705.4 153.5,706.1 153.5,705.5 154.4,706.3 154.4,706.4 155.3,705.9 155.3,705.7 156.2,705.2 156.2,705.3 157.1,704.8 157.1,704.4 158,703.7 158,704.4 158.9,703.5 158.9,703.2 159.8,703.1 159.8,703.3 160.7,704.2 160.7,703.9 161.6,704.6 161.6,704.9 162.5,705.1 162.5,704.7 163.4,705.1 163.4,705.3 164.3,706.1 164.3,705.9 165.2,707.5 165.2,707.6 166.1,709 166.1,708.5 167,709.5 167,709.7 167.9,710.4 167.9,709.9 168.8,709.9 168.8,710.1 169.7,710.3 169.7,709.8 170.6,709.9 170.6,710.1 171.5,709 171.5,708.5 172.4,706.5 172.4,706.8 173.3,706.2 173.3,706 174.2,705.5 174.2,705.8 175.1,705.4 175.1,705.3 176,705.5 176,706.1 176.9,706.3 176.9,705.7 177.8,706 177.8,706.5 178.7,706.6 178.7,706.4 179.6,706.7 179.6,706.8 180.5,707.1 180.5,706 181.4,706.7 181.4,707.3 182.3,707 182.3,706.9 183.2,707.2 183.2,707.5 184.1,708.2 184.1,707.9 185,707.7 185,708 185.9,707.7 185.9,707.3 186.8,706.9 186.8,707.1 187.7,706.9 187.7,706.7 188.6,706.3 188.6,706.8 189.5,706 189.5,705.6 190.4,705 190.4,705.3 191.3,705.5 191.3,705.2 192.2,705.4 192.2,705.8 193.1,706.2 193.1,705.6 194,706 194,706.4 194.9,706.7 194.9,706.4 195.8,706.5 195.8,707.1 196.7,707.5 196.7,707.1 197.6,707.5 197.6,707.6 198.5,708 198.5,707.5 199.4,706.7 199.4,707.1 200.3,706.1 200.3,705.7 201.2,704.9 201.2,705.3 202.1,704.5 202.1,704.1 203,703.9 203,704.2 203.9,704.4 203.9,703.8 204.8,703.7 204.8,704.2 205.7,704.3 205.7,704.1 206.6,704.3 206.6,704.8 207.5,705.1 207.5,704.6 208.4,704.7 208.4,705.4 209.3,705.8 209.3,705.1 210.2,705.2 210.2,706.3 211.1,706.3 211.1,705.7 212,706.3 212,706.4 212.9,706.8 212.9,705.8 213.8,706.7 213.8,706.9 214.7,707.4 214.7,706.9 215.6,707.1 215.6,707.4 216.5,707.1 216.5,706.9 217.4,706.6 217.4,707 218.3,707.6 218.3,706.6 219.2,707.7 219.2,708.1 220.1,708.5 220.1,707.7 221,708.4 221,708.8 221.9,708.5 221.9,708.3 222.8,707.7 222.8,708.1 223.7,707.8 223.7,707.4 224.6,707.1 224.6,707.6 225.5,707.4 225.5,707 226.4,706.8 226.4,706.9 227.3,706.8 227.3,706.6 228.2,705.6 228.2,706.7 229.1,706.4 229.1,706.1 230,705.5 230,705.9 230.9,705.4 230.9,704.8 231.8,704.8 231.8,705.4 232.7,705.8 232.7,705.5 233.6,706.1 233.6,706.7 234.5,705.9 234.5,705.7 235.4,704.4 235.4,704.8 236.3,704.2 236.3,703.9 237.2,703.5 237.2,703.8 238.1,703.5 238.1,703.4 239,703.6 239,703.9 239.9,704.1 239.9,704 240.8,704 240.8,704.8 241.7,704.4 241.7,703.7 242.6,704 242.6,704.5 243.5,705.1 243.5,704.5 244.4,705.5 244.4,706 245.3,707.9 245.3,707.5 246.2,709.8 246.2,710.3 247.1,712.3 247.1,711.5 248,711.7 248,712.2 248.9,711.9 248.9,711.5 249.8,711.2 249.8,711.7 250.7,711.2 250.7,710.3 251.6,710.2 251.6,710.6 252.5,710 252.5,709.5 253.4,709.3 253.4,709.6 254.3,708.3 254.3,708 255.2,706.6 255.2,706.7 256.1,706.4 256.1,705.9 257,705.6 257,705.9 257.9,705.9 257.9,705.6 258.8,705.5 258.8,705.9 259.7,705.9 259.7,705.3 260.6,706.4 260.6,706.9 261.5,707.4 261.5,706.6 262.4,707.6 262.4,707.8 263.3,708.4 263.3,707.9 264.2,707.9 264.2,708.2 265.1,707.8 265.1,707.4 266,707.2 266,707.4 266.9,707.3 266.9,706.9 267.8,706.6 267.8,707.1 268.7,707.1 268.7,706.7 269.6,706.6 269.6,707.4 270.5,707.1 270.5,706.7 271.4,707.2 271.4,707.4 272.3,707.9 272.3,707.7 273.2,707.9 273.2,708 274.1,707.8 274.1,707.5 275,707.1 275,707.2 275.9,707.4 275.9,706.8 276.8,707.4 276.8,707.6 277.7,708.2 277.7,707.6 278.6,707.7 278.6,708.2 279.5,708.2 279.5,708 280.4,708.1 280.4,708.5 281.3,708.2 281.3,707.9 282.2,707.5 282.2,708.5 283.1,707.4 283.1,707.1 284,706.4 284,706.9 284.9,706.1 284.9,705.5 285.8,704.7 285.8,705.2 286.7,705.4 286.7,704.9 287.6,704.8 287.6,704.9 288.5,704.9 288.5,704.7 289.4,704.9 289.4,705 290.3,705.4 290.3,705 291.2,705.1 291.2,705.2 292.1,705.2 292.1,704.7 293,704.7 293,705 293.9,705.3 293.9,704.8 294.8,705.4 294.8,705.5 295.7,706.4 295.7,705.8 296.6,706.2 296.6,706.8 297.5,707 297.5,706.4 298.4,706.7 298.4,707.2 299.3,706.9 299.3,706.7 300.2,706.9 300.2,707.1 301.1,707.2 301.1,707 302,706.9 302,707.3 302.9,707.4 302.9,707 303.8,707 303.8,707.4 304.7,707.1 304.7,706.8 305.6,707 305.6,707.3 306.5,708 306.5,707.6 307.4,708.6 307.4,708.9 308.3,709.8 308.3,708.9 309.2,709.6 309.2,709.7 310.1,708.5 310.1,708.1 311,707.2 311,707.5 311.9,706.9 311.9,706.6 312.8,706 312.8,706.3 313.7,706.1 313.7,705.5 314.6,705.6 314.6,706.2 315.5,705.5 315.5,705.3 316.4,705.1 316.4,705.5 317.3,705.4 317.3,705 318.2,705.4 318.2,705.8 319.1,705.8 319.1,705.7 320,705.1 320,706 320.9,705.9 320.9,705.5 321.8,705.2 321.8,705.7 322.7,706 322.7,705.1 323.6,706.2 323.6,706.5 324.5,707.3 324.5,706.5 325.4,706.9 325.4,707.3 326.3,707.8 326.3,707.4 327.2,707.3 327.2,707.6 328.1,707.8 328.1,707.2 329,707.1 329,707.6 329.9,706.9 329.9,706.5 330.8,705.7 330.8,706 331.7,705.9 331.7,705.3 332.6,706 332.6,706.3 333.5,707 333.5,706.7 334.4,707.3 334.4,707.5 335.3,708.3 335.3,708 336.2,708.4 336.2,708.9 337.1,709.5 337.1,709.2 338,709.9 338,710.4 338.9,711 338.9,710.9 339.8,709.8 339.8,710.4 340.7,709.7 340.7,709 341.6,707.7 341.6,708 342.5,707 342.5,706.7 343.4,706.1 343.4,706.6 344.3,705.9 344.3,705.1 345.2,705.2 345.2,705.7 346.1,705.5 346.1,704.9 347,705 347,705.3 347.9,705.5 347.9,705.4 348.8,706 348.8,706.3 349.7,707.3 349.7,707 350.6,707.7 350.6,708 351.5,708.1 351.5,707.6 352.4,707.2 352.4,707.4 353.3,707 353.3,706.6 354.2,706 354.2,706.5 355.1,707.1 355.1,706.5 356,707.4 356,707.9 356.9,708.8 356.9,708.5 357.8,709.5 357.8,709.7 358.7,709.7 358.7,709.3 359.6,708.7 359.6,709 360.5,708.7 360.5,707.8 361.4,708 361.4,708.5 362.3,708.3 362.3,707.5 363.2,707.7 363.2,707.9 364.1,707.7 364.1,707.6 365,707.1 365,707.5 365.9,707.9 365.9,706.8 366.8,706.2 366.8,706.7 367.7,706.3 367.7,705.7 368.6,705.1 368.6,705.4 369.5,704.5 369.5,704.3 370.4,704.4 370.4,704.8 371.3,705.2 371.3,704.6 372.2,705.1 372.2,705.2 373.1,705.2 373.1,705 374,704.7 374,705 374.9,704.7 374.9,704.5 375.8,703.9 375.8,705 376.7,704.4 376.7,703.7 377.6,703.1 377.6,703.6 378.5,703.4 378.5,702.8 379.4,702.9 379.4,703.1 380.3,704.1 380.3,703.6 381.2,705.6 381.2,706.4 382.1,707.5 382.1,707 383,708 383,708.6 383.9,709.7 383.9,709.1 384.8,710.6 384.8,711 385.7,712.4 385.7,712.1 386.6,713.9 386.6,714.1 387.5,715.2 387.5,714.1 388.4,711.8 388.4,712.3 389.3,710.2 389.3,709.5 390.2,708.7 390.2,709.3 391.1,708.8 391.1,707.9 392,707.6 392,708 392.9,707.7 392.9,707.4 393.8,706.7 393.8,707.1 394.7,706.7 394.7,706.2 395.6,705.6 395.6,706.2 396.5,705.9 396.5,705.6 397.4,705.4 397.4,705.9 398.3,705.9 398.3,705.6 399.2,705.4 399.2,705.9 400.1,705.8 400.1,705.5 401,705.4 401,705.7 401.9,705.8 401.9,705.6 402.8,705.3 402.8,705.9 403.7,705.5 403.7,705.1 404.6,704.8 404.6,705.3 405.5,704.8 405.5,704.6 406.4,704.8 406.4,705 407.3,705.7 407.3,705 408.2,704.5 408.2,705.1 409.1,704.8 409.1,704.5 410,704.7 410,705.2 410.9,705.5 410.9,705 411.8,705.3 411.8,705.5 412.7,706 412.7,705.6 413.6,706.2 413.6,706.4 414.5,708 414.5,707.5 415.4,708.8 415.4,709 416.3,708.8 416.3,708.5 417.2,707.8 417.2,708.2 418.1,708 418.1,707.4 419,707.7 419,708 419.9,708.7 419.9,708.2 420.8,708.5 420.8,709 421.7,709.4 421.7,709 422.6,709 422.6,709.8 423.5,710.3 423.5,710 424.4,709.6 424.4,709.8 425.3,709.3 425.3,708.9 426.2,708.1 426.2,708.5 427.1,707.3 427.1,707.1 428,706.4 428,706.7 428.9,706.9 428.9,706.4 429.8,706.3 429.8,707 430.7,706.6 430.7,706.4 431.6,705.9 431.6,706.4 432.5,706.2 432.5,705.7 433.4,706.1 433.4,706.7 434.3,708.1 434.3,707.2 435.2,707.6 435.2,707.9 436.1,708.6 436.1,708 437,708.4 437,708.6 437.9,708.6 437.9,708.2 438.8,708 438.8,708.5 439.7,708.4 439.7,708 440.6,707.7 440.6,707.8 441.5,707.6 441.5,707.2 442.4,706.5 442.4,707.1 443.3,706.6 443.3,706.1 444.2,705.6 444.2,706.2 445.1,705.7 445.1,705.3 446,705.3 446,706.1 446.9,705.4 446.9,705 447.8,704.8 447.8,705.1 448.7,704.6 448.7,703.9 449.6,703.8 449.6,704.3 450.5,704.3 450.5,703.7 451.4,703.9 451.4,704.7 452.3,705.1 452.3,704.8 453.2,705.7 453.2,706.2 454.1,705.6 454.1,705.5 455,704.5 455,705.4 455.9,705.2 455.9,704.6 456.8,704.2 456.8,704.8 457.7,704.5 457.7,704 458.6,703.8 458.6,704 459.5,704.3 459.5,703.1 460.4,702.7 460.4,703 461.3,703 461.3,702.6 462.2,703.3 462.2,703.5 463.1,704.4 463.1,704 464,704.5 464,705 464.9,705.8 464.9,705.4 465.8,706 465.8,707 466.7,707.9 466.7,707.6 467.6,708.3 467.6,708.6 468.5,708.2 468.5,707.7 469.4,707 469.4,707.4 470.3,707 470.3,706.8 471.2,706.9 471.2,707.4 472.1,708 472.1,707.5 473,708.2 473,708.3 473.9,709.3 473.9,708.5 474.8,708.9 474.8,709.2 475.7,708.8 475.7,708.4 476.6,708.2 476.6,708.9 477.5,708.4 477.5,707.7 478.4,707.1 478.4,707.7 479.3,706.9 479.3,706.1 480.2,705.8 480.2,706 481.1,706 481.1,704.9 482,704.9 482,705.2 482.9,704.9 482.9,704.7 483.8,704.7 483.8,704.9 484.7,704.8 484.7,704.6 485.6,704.6 485.6,704.9 486.5,705.1 486.5,704.6 487.4,704.5 487.4,704.7 488.3,704.7 488.3,704.3 489.2,704.2 489.2,704.5 490.1,705 490.1,704.5 491,705.2 491,705.8 491.9,707.1 491.9,706.2 492.8,706 492.8,707.1 493.7,706.4 493.7,705.9 494.6,705.3 494.6,706.2 495.5,705.2 495.5,705 496.4,704.2 496.4,704.5 497.3,704.1 497.3,704 498.2,702.9 498.2,704.1 499.1,704.9 499.1,704.5 500,705.5 500,705.8 500.9,706.3 500.9,705.9 501.8,706.9 501.8,707.5 502.7,707.8 502.7,707.3 503.6,708 503.6,708.4 504.5,708.5 504.5,708.2 505.4,708.5 505.4,708.9 506.3,709.1 506.3,708.6 507.2,708.3 507.2,709 508.1,708.6 508.1,708.2 509,707.9 509,708.4 509.9,707.9 509.9,707.3 510.8,706.9 510.8,707.7 511.7,706.7 511.7,706.3 512.6,705.9 512.6,706.5 513.5,706.3 513.5,706.1 514.4,706.1 514.4,706.4 515.3,706.5 515.3,706.3 516.2,706.4 516.2,706.9 517.1,707 517.1,706.5 518,706.8 518,708 518.9,707.5 518.9,707.1 519.8,707.5 519.8,708 520.7,708.4 520.7,707.6 521.6,707.1 521.6,707.5 522.5,707 522.5,706.9 523.4,706.9 523.4,707.2 524.3,707.4 524.3,707.2 525.2,707.5 525.2,707.7 526.1,707.2 526.1,706.6 527,706.1 527,706.3 527.9,705.8 527.9,705.5 528.8,705.7 528.8,706.2 529.7,707 529.7,706.2 530.6,706.3 530.6,706.9 531.5,707.6 531.5,706.8 532.4,707.1 532.4,707.4 533.3,707.6 533.3,707.4 534.2,706.9 534.2,707.9 535.1,708.2 535.1,707.8 536,708.2 536,708.4 536.9,708.2 536.9,707.6 537.8,706.7 537.8,707.3 538.7,706 538.7,705.7 539.6,704.6 539.6,705.1 540.5,704.1 540.5,703.5 541.4,703.9 541.4,704.2 542.3,704.4 542.3,704.1 543.2,704.3 543.2,704.4 544.1,704.7 544.1,704.3 545,703.8 545,704.9 545.9,705 545.9,704.8 546.8,705 546.8,705.2 547.7,705.8 547.7,705.3 548.6,706 548.6,706.1 549.5,706.8 549.5,706.4 550.4,707.2 550.4,707.7 551.3,708.1 551.3,707.5 552.2,707.6 552.2,708.4 553.1,708.3 553.1,707.6 554,708 554,708.4 554.9,708.7 554.9,708.2 555.8,708.6 555.8,709.1 556.7,709.1 556.7,708.9 557.6,708.8 557.6,709 558.5,708.6 558.5,708.1 559.4,707.6 559.4,708.5 560.3,707.2 560.3,706.9 561.2,706 561.2,706.5 562.1,706.2 562.1,705.8 563,705.6 563,705.9 563.9,705.8 563.9,704.9 564.8,705.4 564.8,705.7 565.7,705.5 565.7,704.9 566.6,705 566.6,705.6 567.5,705.4 567.5,705 568.4,705 568.4,705.3 569.3,705.8 569.3,704.7 570.2,704.9 570.2,705 571.1,705.3 571.1,704.5 572,703.6 572,704.3 572.9,703.7 572.9,703.3 573.8,702.5 573.8,702.9 574.7,702.5 574.7,702.4 575.6,701.9 575.6,702 576.5,702.1 576.5,701.9 577.4,702.3 577.4,702.7 578.3,703.5 578.3,702.8 579.2,703.1 579.2,703.6 580.1,704.1 580.1,703.5 581,704.2 581,704.7 581.9,705.2 581.9,704.8 582.8,706.7 582.8,706.9 583.7,709.3 583.7,708.8 584.6,709 584.6,709.2 585.5,708.8 585.5,708.6 586.4,708.3 586.4,708.8 587.3,708.7 587.3,708.1 588.2,707.8 588.2,708.5 589.1,709 589.1,708.7 590,709 590,709.5 590.9,709.6 590.9,709.4 591.8,709.8 591.8,710.2 592.7,709.3 592.7,708.7 593.6,707.8 593.6,708.2 594.5,707.6 594.5,707.4 595.4,706.7 595.4,706.9 596.3,706.2 596.3,705.8 597.2,705.1 597.2,705.5 598.1,705 598.1,704.5 599,703.8 599,704.9 599.9,704.4 599.9,703.9 600.8,704 600.8,705 601.7,705.2 601.7,704.9 602.6,705.6 602.6,706 603.5,706.6 603.5,706.2 604.4,706.9 604.4,707.1 605.3,707.5 605.3,707.1 606.2,706.8 606.2,707.2 607.1,707.1 607.1,706.9 608,706.5 608,706.8 608.9,706.4 608.9,706 609.8,705.9 609.8,706 610.7,705.8 610.7,705.4 611.6,705.2 611.6,705.3 612.5,705.3 612.5,705 613.4,705.1 613.4,705.2 614.3,705.7 614.3,705.1 615.2,705.8 615.2,706.3 616.1,706.6 616.1,706.4 617,705.9 617,707 617.9,707 617.9,706.3 618.8,706.7 618.8,707 619.7,707 619.7,706.4 620.6,706.3 620.6,707.2 621.5,706.2 621.5,705.9 622.4,705.4 622.4,705.7 623.3,705.5 623.3,705.1 624.2,704.8 624.2,705.1 625.1,704.9 625.1,704.5 626,704.9 626,705 626.9,705.5 626.9,705 627.8,704.9 627.8,706 628.7,706.2 628.7,706.1 629.6,706.8 629.6,707 630.5,707.2 630.5,706.5 631.4,707.2 631.4,707.3 632.3,707.7 632.3,707.5 633.2,707.5 633.2,708.1 634.1,708.6 634.1,708.1 635,708.7 635,708.9 635.9,708.8 635.9,708.2 636.8,707.5 636.8,708 637.7,706.7 637.7,706.2 638.6,705 638.6,705.2 639.5,704.6 639.5,704.2 640.4,704.1 640.4,704.6 641.3,705 641.3,704.9 642.2,705.6 642.2,706.1 643.1,707.1 643.1,706.9 644,707 644,708.1 644.9,707.9 644.9,707.6 645.8,707.2 645.8,707.8 646.7,707.3 646.7,707.1 647.6,706.5 647.6,707 648.5,706.7 648.5,706.1 649.4,705.8 649.4,706.4 650.3,705.8 650.3,705.4 651.2,704.7 651.2,705.2 652.1,704.8 652.1,704.6 653,704.4 653,704.9 653.9,704.9 653.9,704.6 654.8,704.5 654.8,704.8 655.7,704.9 655.7,704.5 656.6,704.4 656.6,705 657.5,705 657.5,704.7 658.4,704.7 658.4,704.9 659.3,705 659.3,704.6 660.2,704.9 660.2,705.4 661.1,705.4 661.1,704.9 662,704.9 662,705.6 662.9,706 662.9,705.6 663.8,706.1 663.8,706.5 664.7,707.4 664.7,706.9 665.6,707.9 665.6,708.3 666.5,709.1 666.5,709 667.4,709.8 667.4,710 668.3,710.3 668.3,710.1 669.2,709.4 669.2,710.2 670.1,709.2 670.1,708.8 671,708.5 671,708.9 671.9,709 671.9,708.8 672.8,709 672.8,709.1 673.7,709.7 673.7,709.3 674.6,709.9 674.6,710.5 675.5,711.2 675.5,710.5 676.4,710.8 676.4,711.2 677.3,710.6 677.3,710.1 678.2,709 678.2,709.4 679.1,707.1 679.1,706.7 680,705.5 680,706.5 680.9,705.3 680.9,705.1 681.8,704.8 681.8,705.3 682.7,706 682.7,705 683.6,704.8 683.6,705.7 684.5,705.3 684.5,704.9 685.4,705.1 685.4,705.4 686.3,706.2 686.3,705.9 687.2,706.5 687.2,706.8 688.1,707.1 688.1,706.9 689,707.1 689,707.6 689.9,708.2 689.9,707.4 690.8,707 690.8,707.1 691.7,706.8 691.7,706.6 692.6,706.1 692.6,706.5 693.5,706.1 693.5,705.9 694.4,705.6 694.4,706 695.3,705.9 695.3,705.2 696.2,705.8 696.2,705.9 697.1,706 697.1,705.8 698,705.1 698,706.1 698.9,705.7 698.9,705.2 699.8,705.1 699.8,705.4 700.7,705.5 700.7,705.3 701.6,705.2 701.6,705.8 702.5,706 702.5,705 703.4,705.7 703.4,706.1 704.3,706.4 704.3,705.9 705.2,705.9 705.2,706.5 706.1,706.1 706.1,705.5 707,705.2 707,705.8 707.9,705.5 707.9,705.3 708.8,704.9 708.8,705 709.7,705.3 709.7,704.6 710.6,704.7 710.6,704.8 711.5,704.8 711.5,704.4 712.4,704.2 712.4,704.6 713.3,704.4 713.3,704.2 714.2,703.5 714.2,704.2 715.1,703.9 715.1,703.8 716,704.2 716,704.5 716.9,705.2 716.9,704.5 717.8,705.1 717.8,705.4 718.7,706.1 718.7,705.5 719.6,706.4 719.6,706.8 720.5,707.3 720.5,707 721.4,707.7 721.4,708.2 722.3,708.6 722.3,708.3 723.2,708.9 723.2,709.1 724.1,709.7 724.1,709.3 725,709.5 725,709.9 725.9,709.8 725.9,709.2 726.8,709 726.8,709.5 727.7,709 727.7,708.9 728.6,708 728.6,708.8 729.5,708.5 729.5,708.1 730.4,707.5 730.4,708.1 731.3,707.7 731.3,707.2 732.2,707 732.2,707.1 733.1,706.7 733.1,706.4 734,706.1 734,706.4 734.9,706.5 734.9,705.9 735.8,705.8 735.8,706 736.7,705.5 736.7,705.4 737.6,704.9 737.6,705 738.5,704.9 738.5,704.3 739.4,704.4 739.4,704.7 740.3,704.6 740.3,704.3 741.2,704.2 741.2,704.6 742.1,705.5 742.1,704.5 743,704.4 743,704.9 743.9,705 743.9,704.6 744.8,704.5 744.8,705 745.7,705.1 745.7,704.6 746.6,704.7 746.6,705.1 747.5,705.4 747.5,704.9 748.4,705.4 748.4,705.8 749.3,706.4 749.3,705.3 750.2,706.7 750.2,706.9 751.1,708.9 751.1,707.9 752,709.9 752,710.4 752.9,712.1 752.9,711.8 753.8,711.6 753.8,711.9 754.7,710.3 754.7,710.2 755.6,709.2 755.6,709.6 756.5,708.8 756.5,708.5 757.4,708.8 757.4,709.3 758.3,709.9 758.3,709.7 759.2,709.9 759.2,710.3 760.1,710.7 760.1,709.7 761,710.6 761,710.8 761.9,711.3 761.9,711.1 762.8,709.7 762.8,709.9 763.7,708.6 763.7,708.1 764.6,707.5 764.6,707.7 765.5,707.3 765.5,706.9 766.4,707 766.4,707.5 767.3,707.4 767.3,707.3 768.2,706.5 768.2,707.1 769.1,706.4 769.1,705.9 770,705.6 770,706.3 770.9,705.8 770.9,705.5 771.8,705.3 771.8,705.4 772.7,705.3 772.7,704.9 773.6,704.6 773.6,705.4 774.5,706 774.5,704.9 775.4,705.4 775.4,705.7 776.3,705.7 776.3,705.5 777.2,705.5 777.2,706.2 778.1,705.8 778.1,705.4 779,705.4 779,705.9 779.9,706 779.9,705.4 780.8,705.4 780.8,705.6 781.7,706.2 781.7,705.8 782.6,706.1 782.6,706.2 783.5,706.5 783.5,706.4 784.4,705.8 784.4,706.3 785.3,705.8 785.3,705.3 786.2,704.8 786.2,705.1 787.1,704.4 787.1,704.1 788,703.4 788,704.1 788.9,702.9 788.9,702.8 789.8,703.2 789.8,704.2 790.7,704.7 790.7,704.1 791.6,704.3 791.6,704.8 792.5,704.4 792.5,703.9 793.4,703.8 793.4,704.2 794.3,703.8 794.3,703.6 795.2,703.5 795.2,703.7 796.1,703.8 796.1,703.2 797,703.5 797,703.7 797.9,704.2 797.9,703.7 798.8,703.8 798.8,704.3 799.7,704.5 799.7,704.3 800.6,705.5 800.6,706.2 801.5,707.2 801.5,706.7 802.4,707.8 802.4,708 803.3,708.9 803.3,708.3 804.2,708.3 804.2,708.7 805.1,709 805.1,708.4 806,708.2 806,708.7 806.9,708.2 806.9,707.8 807.8,707.7 807.8,708.2 808.7,708.1 808.7,707.5 809.6,707.5 809.6,707.8 810.5,708.5 810.5,708.2 811.4,708.7 811.4,709.2 812.3,708.9 812.3,708.5 813.2,708.6 813.2,708.7 814.1,709 814.1,708.2 815,708.2 815,708.4 815.9,707.9 815.9,707.6 816.8,706.2 816.8,706.6 817.7,705.5 817.7,704.6 818.6,704.7 818.6,705.3 819.5,704.6 819.5,704.1 820.4,704.3 820.4,704.8 821.3,704.9 821.3,704.5 822.2,705.2 822.2,705.6 823.1,706.3 823.1,706.1 824,707 824,707.3 824.9,708 824.9,707.6 825.8,706.4 825.8,706.8 826.7,705.6 826.7,705.2 827.6,706.3 827.6,706.5 828.5,707.4 828.5,707 829.4,707.4 829.4,708.3 830.3,708.2 830.3,707.6 831.2,706.7 831.2,706.9 832.1,705.6 832.1,705.1 833,704.8 833,705.3 833.9,705 833.9,704.6 834.8,704.9 834.8,705.2 835.7,705.9 835.7,705.2 836.6,705.9 836.6,706.6 837.5,706.7 837.5,706.4 838.4,707 838.4,707.5 839.3,708.8 839.3,708.3 840.2,709.7 840.2,710.1 841.1,711.5 841.1,711 842,710.8 842,711.3 842.9,710.6 842.9,710.4 843.8,709.6 843.8,710.5 844.7,710.6 844.7,710.3 845.6,710.5 845.6,711.1 846.5,711 846.5,710.7 847.4,708.2 847.4,708.7 848.3,706.9 848.3,706.6 849.2,705.6 849.2,705.9 850.1,705.9 850.1,705.4 851,706.1 851,706.4 851.9,706.6 851.9,706.1 852.8,705.8 852.8,706.3 853.7,705.9 853.7,705 854.6,705.1 854.6,705.3 855.5,705.3 855.5,705.1 856.4,705.7 856.4,706.2 857.3,706.9 857.3,706.4 858.2,707.1 858.2,707.6 859.1,707.9 859.1,707.2 860,706.6 860,707 860.9,706.5 860.9,706.3 861.8,706 861.8,706.4 862.7,706.1 862.7,705.7 863.6,705.2 863.6,705.7 864.5,705.2 864.5,704.9 865.4,705.2 865.4,705.4 866.3,705.4 866.3,705 867.2,704.6 867.2,705.8 868.1,706.1 868.1,705.5 869,705.8 869,706 869.9,706.5 869.9,705.9 870.8,706.1 870.8,706.6 871.7,706.7 871.7,706.4 872.6,706.8 872.6,707.2 873.5,707.8 873.5,707.5 874.4,707.4 874.4,707.8 875.3,706.5 875.3,705.9 876.2,705.5 876.2,705.9 877.1,705.2 877.1,705 878,704.6 878,704.9 878.9,704.8 878.9,704.5 879.8,704.8 879.8,705 880.7,705.2 880.7,704.7 881.6,704.8 881.6,705.1 882.5,704.8 882.5,704.6 883.4,704.7 883.4,704.9 884.3,705.2 884.3,704.8 885.2,705.5 885.2,705.7 886.1,706.9 886.1,706.4 887,707.2 887,708.1 887.9,708 887.9,707.6"/>
<polyline class="d sp" points="888.2,707.9 888.5,708.9 888.5,734.1 888.7,565.9 888.9,702.1 889.1,704.1"/>
<polyline class="d d3" points="889,703.8 889,704.2 889.9,704.3 889.9,703.9 890.8,705.5 890.8,705.9 891.7,707.4 891.7,706.7 892.6,707.8 892.6,708.4 893.5,709 893.5,708.6 894.4,707.8 894.4,708.9 895.3,708.5 895.3,708.1 896.2,708.1 896.2,708.8 897.1,708 897.1,707.4 898,707.6 898,708.1 898.9,707.8 898.9,707.3 899.8,707.2 899.8,707.8 900.7,707.5 900.7,707.3 901.6,707.3 901.6,707.9 902.5,707.8 902.5,707.4 903.4,705.6 903.4,705.8 904.3,704.5 904.3,704 905.2,702.9 905.2,703.3 906.1,702.7 906.1,702.3 907,701.6 907,701.9 907.9,701.7 907.9,701.1 908.8,700.7 908.8,700.9 909.7,700.5 909.7,699.8 910.6,699.8 910.6,700 911.5,699.6 911.5,699.1 912.4,699.3 912.4,699.4 913.3,699.8 913.3,699.3 914.2,700.2 914.2,700.6 915.1,701.6 915.1,701.2 916,702.4 916,702.5 916.9,703.7 916.9,703 917.8,704.7 917.8,705.4 918.7,706.4 918.7,706.2 919.6,708.3 919.6,708.4 920.5,710.8 920.5,710.4 921.4,712.7 921.4,713 922.3,712.9 922.3,712.1 923.2,711.4 923.2,712 924.1,711.4 924.1,711.2 925,710.6 925,711 925.9,710.9 925.9,710.3 926.8,710.2 926.8,710.4 927.7,711 927.7,710.7 928.6,709.9 928.6,710.4 929.5,708.9 929.5,708.2 930.4,707.5 930.4,707.6 931.3,707.2 931.3,706.6 932.2,706.4 932.2,706.5 933.1,706.1 933.1,706 934,705.4 934,705.9 934.9,706 934.9,705.8 935.8,706.2 935.8,706.3 936.7,706.7 936.7,706.5 937.6,706.1 937.6,707 938.5,707 938.5,706.5 939.4,706.7 939.4,707.1 940.3,707.2 940.3,706.7 941.2,707.2 941.2,707.4 942.1,707.5 942.1,707 943,707.3 943,708.2 943.9,707.5 943.9,707.4 944.8,707.6 944.8,708.2 945.7,708.4 945.7,708 946.6,706.7 946.6,707.2 947.5,705.6 947.5,704.7 948.4,705.3 948.4,705.7 949.3,705.8 949.3,704.9 950.2,705.3 950.2,705.6 951.1,705.3 951.1,705 952,704.6 952,705.4 952.9,705.3 952.9,704.9 953.8,705 953.8,705.1 954.7,705 954.7,704.7 955.6,704.8 955.6,705.1 956.5,704.9 956.5,704 957.4,705.5 957.4,705.8 958.3,705.8 958.3,705.6 959.2,704.5 959.2,704.9 960.1,704.5 960.1,703.9 961,703.7 961,704.2 961.9,703.6 961.9,703.5 962.8,703.2 962.8,703.3 963.7,703.1 963.7,702.5 964.6,703.1 964.6,703.5 965.5,704 965.5,703.6 966.4,703.1 966.4,703.4 967.3,702.8 967.3,702.7 968.2,703.6 968.2,703.8 969.1,704.5 969.1,704"/>
</g>
<path class="k" d="M124.5 742.5v4.86M208.5 742.5v4.86M293.5 742.5v4.86M377.5 742.5v4.86M462.5 742.5v4.86M547.5 742.5v4.86M631.5 742.5v4.86M716.5 742.5v4.86M800.5 742.5v4.86M885.5 742.5v4.86M969.5 742.5v4.86M82.5 600.5h-4.86M82.5 656.5h-4.86M82.5 712.5h-4.86"/>
<rect class="s" x="82.5" y="558.5" width="930.0" height="184.0"/>
<text class="t10" x="72.80" y="606.15" text-anchor="end">4</text>
<text class="t10" x="71.80" y="662.05" text-anchor="end">2</text>
<text class="t10" x="72.70" y="717.45" text-anchor="end">0</text>
<text class="t12" transform="translate(546.80 549.90) scale(1 1.07)" text-anchor="middle" style="letter-spacing:-0.08px">Up displacement</text>
<text class="t10" transform="translate(54.5 652.8) rotate(-90)" text-anchor="middle" style="letter-spacing:-0.25px">Disp.</text>
</g>
<text class="t10" x="124.07" y="762.9" text-anchor="middle" style="letter-spacing:-0.11px">2024-12-03</text>
<text class="t10" x="208.62" y="762.9" text-anchor="middle" style="letter-spacing:-0.11px">2024-12-04</text>
<text class="t10" x="293.16" y="762.9" text-anchor="middle" style="letter-spacing:-0.11px">2024-12-05</text>
<text class="t10" x="377.70" y="762.9" text-anchor="middle" style="letter-spacing:-0.11px">2024-12-06</text>
<text class="t10" x="462.25" y="762.9" text-anchor="middle" style="letter-spacing:-0.11px">2024-12-07</text>
<text class="t10" x="546.79" y="762.9" text-anchor="middle" style="letter-spacing:-0.11px">2024-12-08</text>
<text class="t10" x="631.34" y="762.9" text-anchor="middle" style="letter-spacing:-0.11px">2024-12-09</text>
<text class="t10" x="715.88" y="762.9" text-anchor="middle" style="letter-spacing:-0.11px">2024-12-10</text>
<text class="t10" x="800.43" y="762.9" text-anchor="middle" style="letter-spacing:-0.11px">2024-12-11</text>
<text class="t10" x="884.97" y="762.9" text-anchor="middle" style="letter-spacing:-0.11px">2024-12-12</text>
<text class="t10" x="969.52" y="762.9" text-anchor="middle" style="letter-spacing:-0.11px">2024-12-13</text>
<text class="t10" x="546.4" y="782.9" text-anchor="middle">Time (UTC)</text>
</svg></body></html>
